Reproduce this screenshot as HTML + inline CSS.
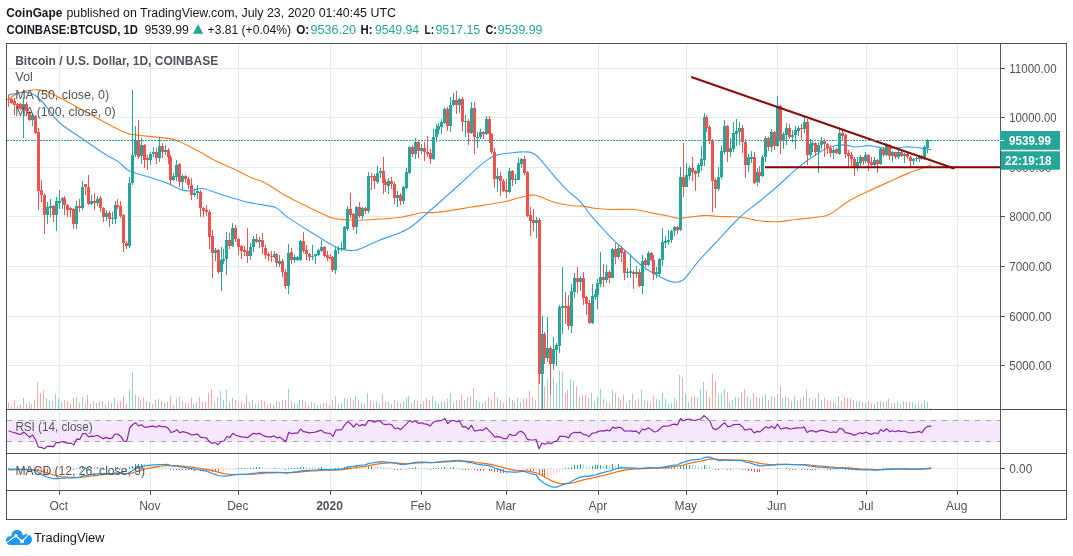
<!DOCTYPE html>
<html><head><meta charset="utf-8"><title>BTCUSD</title>
<style>html,body{margin:0;padding:0;background:#fff;}body{width:1073px;height:556px;overflow:hidden;font-family:"Liberation Sans",sans-serif;}svg{display:block}</style>
</head><body>
<svg style="will-change:transform" width="1073" height="556" viewBox="0 0 1073 556" font-family="'Liberation Sans', sans-serif">
<rect width="1073" height="556" fill="#fff"/>
<rect x="7" y="420" width="993" height="22" fill="#f5e8fc"/>
<g stroke="#e1ecf2" stroke-width="1" shape-rendering="crispEdges">
<line x1="59.5" y1="44" x2="59.5" y2="490"/>
<line x1="150.5" y1="44" x2="150.5" y2="490"/>
<line x1="238.5" y1="44" x2="238.5" y2="490"/>
<line x1="330.5" y1="44" x2="330.5" y2="490"/>
<line x1="421.5" y1="44" x2="421.5" y2="490"/>
<line x1="506.5" y1="44" x2="506.5" y2="490"/>
<line x1="598.5" y1="44" x2="598.5" y2="490"/>
<line x1="686.5" y1="44" x2="686.5" y2="490"/>
<line x1="777.5" y1="44" x2="777.5" y2="490"/>
<line x1="866.5" y1="44" x2="866.5" y2="490"/>
<line x1="957.5" y1="44" x2="957.5" y2="490"/>
<line x1="7" y1="68.5" x2="1000" y2="68.5"/>
<line x1="7" y1="117.5" x2="1000" y2="117.5"/>
<line x1="7" y1="167.5" x2="1000" y2="167.5"/>
<line x1="7" y1="216.5" x2="1000" y2="216.5"/>
<line x1="7" y1="266.5" x2="1000" y2="266.5"/>
<line x1="7" y1="316.5" x2="1000" y2="316.5"/>
<line x1="7" y1="365.5" x2="1000" y2="365.5"/>
<line x1="7" y1="468.5" x2="1000" y2="468.5"/>
</g>
<g stroke="#a3a3a8" stroke-width="1" stroke-dasharray="5,6" shape-rendering="crispEdges"><line x1="7" y1="420.5" x2="1000" y2="420.5"/><line x1="7" y1="441.5" x2="1000" y2="441.5"/></g>
<g shape-rendering="crispEdges">
<rect x="8" y="402.8" width="1" height="6.7" fill="#f7a9a7"/>
<rect x="11" y="405.6" width="1" height="3.9" fill="#f7a9a7"/>
<rect x="14" y="400.3" width="1" height="9.2" fill="#f7a9a7"/>
<rect x="17" y="405.6" width="1" height="3.9" fill="#f7a9a7"/>
<rect x="20" y="404.1" width="1" height="5.4" fill="#f7a9a7"/>
<rect x="23" y="397.5" width="1" height="12.0" fill="#93d3cd"/>
<rect x="26" y="403.5" width="1" height="6.0" fill="#f7a9a7"/>
<rect x="29" y="403.0" width="1" height="6.5" fill="#f7a9a7"/>
<rect x="31" y="403.7" width="1" height="5.8" fill="#93d3cd"/>
<rect x="34" y="400.2" width="1" height="9.3" fill="#f7a9a7"/>
<rect x="37" y="381.5" width="1" height="28.0" fill="#f7a9a7"/>
<rect x="40" y="392.5" width="1" height="17.0" fill="#f7a9a7"/>
<rect x="43" y="389.5" width="1" height="20.0" fill="#f7a9a7"/>
<rect x="46" y="397.5" width="1" height="12.0" fill="#93d3cd"/>
<rect x="49" y="401.4" width="1" height="8.1" fill="#93d3cd"/>
<rect x="52" y="401.4" width="1" height="8.1" fill="#f7a9a7"/>
<rect x="55" y="394.1" width="1" height="15.4" fill="#93d3cd"/>
<rect x="58" y="398.8" width="1" height="10.7" fill="#93d3cd"/>
<rect x="61" y="402.3" width="1" height="7.2" fill="#93d3cd"/>
<rect x="64" y="400.2" width="1" height="9.3" fill="#f7a9a7"/>
<rect x="67" y="401.0" width="1" height="8.5" fill="#f7a9a7"/>
<rect x="70" y="404.3" width="1" height="5.2" fill="#f7a9a7"/>
<rect x="73" y="398.3" width="1" height="11.2" fill="#f7a9a7"/>
<rect x="76" y="397.4" width="1" height="12.1" fill="#93d3cd"/>
<rect x="79" y="403.1" width="1" height="6.4" fill="#f7a9a7"/>
<rect x="82" y="397.1" width="1" height="12.4" fill="#93d3cd"/>
<rect x="85" y="403.2" width="1" height="6.3" fill="#f7a9a7"/>
<rect x="87" y="395.1" width="1" height="14.4" fill="#f7a9a7"/>
<rect x="90" y="404.0" width="1" height="5.5" fill="#93d3cd"/>
<rect x="93" y="400.5" width="1" height="9.0" fill="#f7a9a7"/>
<rect x="96" y="402.9" width="1" height="6.6" fill="#93d3cd"/>
<rect x="99" y="401.0" width="1" height="8.5" fill="#f7a9a7"/>
<rect x="102" y="401.3" width="1" height="8.2" fill="#f7a9a7"/>
<rect x="105" y="404.1" width="1" height="5.4" fill="#93d3cd"/>
<rect x="108" y="402.1" width="1" height="7.4" fill="#f7a9a7"/>
<rect x="111" y="403.4" width="1" height="6.1" fill="#93d3cd"/>
<rect x="114" y="398.2" width="1" height="11.3" fill="#93d3cd"/>
<rect x="117" y="403.3" width="1" height="6.2" fill="#f7a9a7"/>
<rect x="120" y="401.4" width="1" height="8.1" fill="#f7a9a7"/>
<rect x="123" y="395.5" width="1" height="14.0" fill="#f7a9a7"/>
<rect x="126" y="404.1" width="1" height="5.4" fill="#f7a9a7"/>
<rect x="129" y="389.5" width="1" height="20.0" fill="#93d3cd"/>
<rect x="132" y="371.5" width="1" height="38.0" fill="#93d3cd"/>
<rect x="135" y="394.5" width="1" height="15.0" fill="#93d3cd"/>
<rect x="138" y="396.5" width="1" height="13.0" fill="#f7a9a7"/>
<rect x="140" y="399.5" width="1" height="10.0" fill="#93d3cd"/>
<rect x="143" y="397.9" width="1" height="11.6" fill="#f7a9a7"/>
<rect x="146" y="400.6" width="1" height="8.9" fill="#f7a9a7"/>
<rect x="149" y="401.5" width="1" height="8.0" fill="#93d3cd"/>
<rect x="152" y="403.8" width="1" height="5.7" fill="#93d3cd"/>
<rect x="155" y="399.8" width="1" height="9.7" fill="#f7a9a7"/>
<rect x="158" y="398.7" width="1" height="10.8" fill="#93d3cd"/>
<rect x="161" y="401.2" width="1" height="8.3" fill="#f7a9a7"/>
<rect x="164" y="402.7" width="1" height="6.8" fill="#93d3cd"/>
<rect x="167" y="401.9" width="1" height="7.6" fill="#f7a9a7"/>
<rect x="170" y="396.1" width="1" height="13.4" fill="#f7a9a7"/>
<rect x="173" y="404.9" width="1" height="4.6" fill="#93d3cd"/>
<rect x="176" y="398.5" width="1" height="11.0" fill="#93d3cd"/>
<rect x="179" y="397.3" width="1" height="12.2" fill="#f7a9a7"/>
<rect x="182" y="400.5" width="1" height="9.0" fill="#93d3cd"/>
<rect x="185" y="403.1" width="1" height="6.4" fill="#f7a9a7"/>
<rect x="188" y="403.0" width="1" height="6.5" fill="#f7a9a7"/>
<rect x="191" y="398.4" width="1" height="11.1" fill="#f7a9a7"/>
<rect x="193" y="403.5" width="1" height="6.0" fill="#93d3cd"/>
<rect x="196" y="401.7" width="1" height="7.8" fill="#93d3cd"/>
<rect x="199" y="397.4" width="1" height="12.1" fill="#f7a9a7"/>
<rect x="202" y="402.2" width="1" height="7.3" fill="#f7a9a7"/>
<rect x="205" y="401.7" width="1" height="7.8" fill="#f7a9a7"/>
<rect x="208" y="392.8" width="1" height="16.7" fill="#f7a9a7"/>
<rect x="211" y="389.3" width="1" height="20.2" fill="#f7a9a7"/>
<rect x="214" y="403.0" width="1" height="6.5" fill="#93d3cd"/>
<rect x="217" y="397.1" width="1" height="12.4" fill="#f7a9a7"/>
<rect x="220" y="390.7" width="1" height="18.8" fill="#93d3cd"/>
<rect x="223" y="400.0" width="1" height="9.5" fill="#93d3cd"/>
<rect x="226" y="390.4" width="1" height="19.1" fill="#93d3cd"/>
<rect x="229" y="401.8" width="1" height="7.7" fill="#f7a9a7"/>
<rect x="232" y="398.3" width="1" height="11.2" fill="#93d3cd"/>
<rect x="235" y="400.1" width="1" height="9.4" fill="#f7a9a7"/>
<rect x="238" y="401.8" width="1" height="7.7" fill="#f7a9a7"/>
<rect x="241" y="401.7" width="1" height="7.8" fill="#f7a9a7"/>
<rect x="244" y="404.2" width="1" height="5.3" fill="#f7a9a7"/>
<rect x="246" y="395.2" width="1" height="14.3" fill="#f7a9a7"/>
<rect x="249" y="401.8" width="1" height="7.7" fill="#93d3cd"/>
<rect x="252" y="400.3" width="1" height="9.2" fill="#93d3cd"/>
<rect x="255" y="404.4" width="1" height="5.1" fill="#f7a9a7"/>
<rect x="258" y="403.4" width="1" height="6.1" fill="#93d3cd"/>
<rect x="261" y="399.6" width="1" height="9.9" fill="#f7a9a7"/>
<rect x="264" y="401.1" width="1" height="8.4" fill="#f7a9a7"/>
<rect x="267" y="404.8" width="1" height="4.7" fill="#f7a9a7"/>
<rect x="270" y="402.9" width="1" height="6.6" fill="#f7a9a7"/>
<rect x="273" y="404.0" width="1" height="5.5" fill="#93d3cd"/>
<rect x="276" y="400.9" width="1" height="8.6" fill="#f7a9a7"/>
<rect x="279" y="401.9" width="1" height="7.6" fill="#93d3cd"/>
<rect x="282" y="399.5" width="1" height="10.0" fill="#f7a9a7"/>
<rect x="285" y="400.3" width="1" height="9.2" fill="#f7a9a7"/>
<rect x="288" y="388.8" width="1" height="20.7" fill="#93d3cd"/>
<rect x="291" y="401.2" width="1" height="8.3" fill="#f7a9a7"/>
<rect x="294" y="403.1" width="1" height="6.4" fill="#93d3cd"/>
<rect x="297" y="403.5" width="1" height="6.0" fill="#93d3cd"/>
<rect x="299" y="400.1" width="1" height="9.4" fill="#93d3cd"/>
<rect x="302" y="400.0" width="1" height="9.5" fill="#f7a9a7"/>
<rect x="305" y="402.1" width="1" height="7.4" fill="#f7a9a7"/>
<rect x="308" y="404.5" width="1" height="5.0" fill="#f7a9a7"/>
<rect x="311" y="401.6" width="1" height="7.9" fill="#93d3cd"/>
<rect x="314" y="402.9" width="1" height="6.6" fill="#93d3cd"/>
<rect x="317" y="404.9" width="1" height="4.6" fill="#93d3cd"/>
<rect x="320" y="403.5" width="1" height="6.0" fill="#93d3cd"/>
<rect x="323" y="403.0" width="1" height="6.5" fill="#f7a9a7"/>
<rect x="326" y="403.4" width="1" height="6.1" fill="#f7a9a7"/>
<rect x="329" y="404.8" width="1" height="4.7" fill="#f7a9a7"/>
<rect x="332" y="400.1" width="1" height="9.4" fill="#f7a9a7"/>
<rect x="335" y="396.4" width="1" height="13.1" fill="#93d3cd"/>
<rect x="338" y="404.0" width="1" height="5.5" fill="#93d3cd"/>
<rect x="341" y="403.1" width="1" height="6.4" fill="#93d3cd"/>
<rect x="344" y="397.8" width="1" height="11.7" fill="#93d3cd"/>
<rect x="347" y="398.8" width="1" height="10.7" fill="#93d3cd"/>
<rect x="350" y="396.9" width="1" height="12.6" fill="#f7a9a7"/>
<rect x="353" y="399.9" width="1" height="9.6" fill="#f7a9a7"/>
<rect x="355" y="395.9" width="1" height="13.6" fill="#93d3cd"/>
<rect x="358" y="400.2" width="1" height="9.3" fill="#f7a9a7"/>
<rect x="361" y="402.7" width="1" height="6.8" fill="#93d3cd"/>
<rect x="364" y="404.3" width="1" height="5.2" fill="#f7a9a7"/>
<rect x="367" y="393.1" width="1" height="16.4" fill="#93d3cd"/>
<rect x="370" y="400.3" width="1" height="9.2" fill="#f7a9a7"/>
<rect x="373" y="402.6" width="1" height="6.9" fill="#f7a9a7"/>
<rect x="376" y="401.3" width="1" height="8.2" fill="#93d3cd"/>
<rect x="379" y="403.8" width="1" height="5.7" fill="#93d3cd"/>
<rect x="382" y="394.3" width="1" height="15.2" fill="#f7a9a7"/>
<rect x="385" y="402.4" width="1" height="7.1" fill="#f7a9a7"/>
<rect x="388" y="402.2" width="1" height="7.3" fill="#93d3cd"/>
<rect x="391" y="403.7" width="1" height="5.8" fill="#f7a9a7"/>
<rect x="394" y="399.8" width="1" height="9.7" fill="#f7a9a7"/>
<rect x="397" y="402.1" width="1" height="7.4" fill="#93d3cd"/>
<rect x="400" y="402.8" width="1" height="6.7" fill="#f7a9a7"/>
<rect x="403" y="401.4" width="1" height="8.1" fill="#93d3cd"/>
<rect x="406" y="398.1" width="1" height="11.4" fill="#93d3cd"/>
<rect x="408" y="396.4" width="1" height="13.1" fill="#93d3cd"/>
<rect x="411" y="403.4" width="1" height="6.1" fill="#f7a9a7"/>
<rect x="414" y="399.9" width="1" height="9.6" fill="#93d3cd"/>
<rect x="417" y="400.9" width="1" height="8.6" fill="#f7a9a7"/>
<rect x="420" y="403.7" width="1" height="5.8" fill="#93d3cd"/>
<rect x="423" y="401.0" width="1" height="8.5" fill="#f7a9a7"/>
<rect x="426" y="398.4" width="1" height="11.1" fill="#f7a9a7"/>
<rect x="429" y="400.3" width="1" height="9.2" fill="#f7a9a7"/>
<rect x="432" y="395.6" width="1" height="13.9" fill="#93d3cd"/>
<rect x="435" y="400.5" width="1" height="9.0" fill="#93d3cd"/>
<rect x="438" y="403.8" width="1" height="5.7" fill="#93d3cd"/>
<rect x="441" y="402.4" width="1" height="7.1" fill="#93d3cd"/>
<rect x="444" y="401.2" width="1" height="8.3" fill="#93d3cd"/>
<rect x="447" y="398.8" width="1" height="10.7" fill="#f7a9a7"/>
<rect x="450" y="393.2" width="1" height="16.3" fill="#93d3cd"/>
<rect x="453" y="402.7" width="1" height="6.8" fill="#93d3cd"/>
<rect x="456" y="399.7" width="1" height="9.8" fill="#f7a9a7"/>
<rect x="459" y="400.1" width="1" height="9.4" fill="#93d3cd"/>
<rect x="461" y="394.5" width="1" height="15.0" fill="#f7a9a7"/>
<rect x="464" y="399.9" width="1" height="9.6" fill="#93d3cd"/>
<rect x="467" y="397.3" width="1" height="12.2" fill="#f7a9a7"/>
<rect x="470" y="396.4" width="1" height="13.1" fill="#93d3cd"/>
<rect x="473" y="388.0" width="1" height="21.5" fill="#f7a9a7"/>
<rect x="476" y="399.8" width="1" height="9.7" fill="#93d3cd"/>
<rect x="479" y="402.3" width="1" height="7.2" fill="#93d3cd"/>
<rect x="482" y="403.4" width="1" height="6.1" fill="#f7a9a7"/>
<rect x="485" y="400.5" width="1" height="9.0" fill="#93d3cd"/>
<rect x="488" y="397.2" width="1" height="12.3" fill="#f7a9a7"/>
<rect x="491" y="399.8" width="1" height="9.7" fill="#f7a9a7"/>
<rect x="494" y="391.6" width="1" height="17.9" fill="#f7a9a7"/>
<rect x="497" y="398.3" width="1" height="11.2" fill="#93d3cd"/>
<rect x="500" y="399.5" width="1" height="10.0" fill="#f7a9a7"/>
<rect x="503" y="402.5" width="1" height="7.0" fill="#f7a9a7"/>
<rect x="506" y="400.7" width="1" height="8.8" fill="#f7a9a7"/>
<rect x="509" y="396.9" width="1" height="12.6" fill="#93d3cd"/>
<rect x="512" y="399.7" width="1" height="9.8" fill="#f7a9a7"/>
<rect x="514" y="402.3" width="1" height="7.2" fill="#93d3cd"/>
<rect x="517" y="397.9" width="1" height="11.6" fill="#93d3cd"/>
<rect x="520" y="402.3" width="1" height="7.2" fill="#93d3cd"/>
<rect x="523" y="399.3" width="1" height="10.2" fill="#f7a9a7"/>
<rect x="526" y="397.5" width="1" height="12.0" fill="#f7a9a7"/>
<rect x="529" y="390.5" width="1" height="19.0" fill="#f7a9a7"/>
<rect x="532" y="396.5" width="1" height="13.0" fill="#f7a9a7"/>
<rect x="535" y="399.5" width="1" height="10.0" fill="#93d3cd"/>
<rect x="538" y="369.5" width="1" height="40.0" fill="#f7a9a7"/>
<rect x="541" y="363.5" width="1" height="46.0" fill="#93d3cd"/>
<rect x="544" y="385.5" width="1" height="24.0" fill="#f7a9a7"/>
<rect x="547" y="378.5" width="1" height="31.0" fill="#93d3cd"/>
<rect x="550" y="369.5" width="1" height="40.0" fill="#f7a9a7"/>
<rect x="553" y="377.5" width="1" height="32.0" fill="#93d3cd"/>
<rect x="556" y="382.5" width="1" height="27.0" fill="#93d3cd"/>
<rect x="559" y="370.5" width="1" height="39.0" fill="#93d3cd"/>
<rect x="562" y="371.5" width="1" height="38.0" fill="#93d3cd"/>
<rect x="565" y="392.5" width="1" height="17.0" fill="#f7a9a7"/>
<rect x="567" y="389.5" width="1" height="20.0" fill="#f7a9a7"/>
<rect x="570" y="379.5" width="1" height="30.0" fill="#93d3cd"/>
<rect x="573" y="380.5" width="1" height="29.0" fill="#93d3cd"/>
<rect x="576" y="386.5" width="1" height="23.0" fill="#f7a9a7"/>
<rect x="579" y="396.5" width="1" height="13.0" fill="#93d3cd"/>
<rect x="582" y="394.5" width="1" height="15.0" fill="#f7a9a7"/>
<rect x="585" y="394.5" width="1" height="15.0" fill="#f7a9a7"/>
<rect x="588" y="397.5" width="1" height="12.0" fill="#f7a9a7"/>
<rect x="591" y="392.5" width="1" height="17.0" fill="#93d3cd"/>
<rect x="594" y="400.5" width="1" height="9.0" fill="#93d3cd"/>
<rect x="597" y="396.5" width="1" height="13.0" fill="#93d3cd"/>
<rect x="600" y="388.5" width="1" height="21.0" fill="#93d3cd"/>
<rect x="603" y="398.5" width="1" height="11.0" fill="#f7a9a7"/>
<rect x="606" y="401.5" width="1" height="8.0" fill="#93d3cd"/>
<rect x="609" y="402.5" width="1" height="7.0" fill="#f7a9a7"/>
<rect x="612" y="389.5" width="1" height="20.0" fill="#93d3cd"/>
<rect x="615" y="392.5" width="1" height="17.0" fill="#f7a9a7"/>
<rect x="618" y="397.5" width="1" height="12.0" fill="#93d3cd"/>
<rect x="620" y="399.5" width="1" height="10.0" fill="#f7a9a7"/>
<rect x="623" y="394.5" width="1" height="15.0" fill="#f7a9a7"/>
<rect x="626" y="402.5" width="1" height="7.0" fill="#93d3cd"/>
<rect x="629" y="399.5" width="1" height="10.0" fill="#93d3cd"/>
<rect x="632" y="393.5" width="1" height="16.0" fill="#f7a9a7"/>
<rect x="635" y="399.5" width="1" height="10.0" fill="#93d3cd"/>
<rect x="638" y="398.5" width="1" height="11.0" fill="#f7a9a7"/>
<rect x="641" y="389.5" width="1" height="20.0" fill="#93d3cd"/>
<rect x="644" y="399.5" width="1" height="10.0" fill="#f7a9a7"/>
<rect x="647" y="400.5" width="1" height="9.0" fill="#93d3cd"/>
<rect x="650" y="402.5" width="1" height="7.0" fill="#f7a9a7"/>
<rect x="653" y="395.5" width="1" height="14.0" fill="#f7a9a7"/>
<rect x="656" y="398.5" width="1" height="11.0" fill="#93d3cd"/>
<rect x="659" y="399.5" width="1" height="10.0" fill="#93d3cd"/>
<rect x="662" y="392.5" width="1" height="17.0" fill="#93d3cd"/>
<rect x="665" y="398.5" width="1" height="11.0" fill="#93d3cd"/>
<rect x="668" y="403.5" width="1" height="6.0" fill="#93d3cd"/>
<rect x="671" y="402.5" width="1" height="7.0" fill="#93d3cd"/>
<rect x="674" y="397.5" width="1" height="12.0" fill="#93d3cd"/>
<rect x="676" y="400.5" width="1" height="9.0" fill="#f7a9a7"/>
<rect x="679" y="374.5" width="1" height="35.0" fill="#93d3cd"/>
<rect x="682" y="377.5" width="1" height="32.0" fill="#f7a9a7"/>
<rect x="685" y="393.5" width="1" height="16.0" fill="#93d3cd"/>
<rect x="688" y="401.5" width="1" height="8.0" fill="#93d3cd"/>
<rect x="691" y="396.5" width="1" height="13.0" fill="#f7a9a7"/>
<rect x="694" y="395.5" width="1" height="14.0" fill="#f7a9a7"/>
<rect x="697" y="397.5" width="1" height="12.0" fill="#93d3cd"/>
<rect x="700" y="389.5" width="1" height="20.0" fill="#93d3cd"/>
<rect x="703" y="381.5" width="1" height="28.0" fill="#93d3cd"/>
<rect x="706" y="390.5" width="1" height="19.0" fill="#f7a9a7"/>
<rect x="709" y="396.5" width="1" height="13.0" fill="#f7a9a7"/>
<rect x="712" y="373.5" width="1" height="36.0" fill="#f7a9a7"/>
<rect x="715" y="380.5" width="1" height="29.0" fill="#f7a9a7"/>
<rect x="718" y="394.5" width="1" height="15.0" fill="#93d3cd"/>
<rect x="721" y="393.5" width="1" height="16.0" fill="#93d3cd"/>
<rect x="724" y="388.5" width="1" height="21.0" fill="#93d3cd"/>
<rect x="727" y="391.5" width="1" height="18.0" fill="#f7a9a7"/>
<rect x="729" y="401.5" width="1" height="8.0" fill="#93d3cd"/>
<rect x="732" y="399.5" width="1" height="10.0" fill="#93d3cd"/>
<rect x="735" y="396.5" width="1" height="13.0" fill="#93d3cd"/>
<rect x="738" y="397.5" width="1" height="12.0" fill="#93d3cd"/>
<rect x="741" y="392.2" width="1" height="17.3" fill="#f7a9a7"/>
<rect x="744" y="389.4" width="1" height="20.1" fill="#f7a9a7"/>
<rect x="747" y="396.8" width="1" height="12.7" fill="#93d3cd"/>
<rect x="750" y="398.6" width="1" height="10.9" fill="#93d3cd"/>
<rect x="753" y="393.1" width="1" height="16.4" fill="#f7a9a7"/>
<rect x="756" y="397.0" width="1" height="12.5" fill="#93d3cd"/>
<rect x="759" y="398.0" width="1" height="11.5" fill="#f7a9a7"/>
<rect x="762" y="396.6" width="1" height="12.9" fill="#93d3cd"/>
<rect x="765" y="394.0" width="1" height="15.5" fill="#93d3cd"/>
<rect x="768" y="400.1" width="1" height="9.4" fill="#f7a9a7"/>
<rect x="771" y="396.2" width="1" height="13.3" fill="#93d3cd"/>
<rect x="774" y="397.0" width="1" height="12.5" fill="#f7a9a7"/>
<rect x="777" y="393.5" width="1" height="16.0" fill="#93d3cd"/>
<rect x="780" y="385.5" width="1" height="24.0" fill="#f7a9a7"/>
<rect x="782" y="398.0" width="1" height="11.5" fill="#93d3cd"/>
<rect x="785" y="396.0" width="1" height="13.5" fill="#93d3cd"/>
<rect x="788" y="398.1" width="1" height="11.4" fill="#f7a9a7"/>
<rect x="791" y="401.1" width="1" height="8.4" fill="#93d3cd"/>
<rect x="794" y="395.7" width="1" height="13.8" fill="#93d3cd"/>
<rect x="797" y="401.4" width="1" height="8.1" fill="#93d3cd"/>
<rect x="800" y="399.0" width="1" height="10.5" fill="#f7a9a7"/>
<rect x="803" y="397.3" width="1" height="12.2" fill="#93d3cd"/>
<rect x="806" y="389.5" width="1" height="20.0" fill="#f7a9a7"/>
<rect x="809" y="397.8" width="1" height="11.7" fill="#93d3cd"/>
<rect x="812" y="399.9" width="1" height="9.6" fill="#93d3cd"/>
<rect x="815" y="398.4" width="1" height="11.1" fill="#f7a9a7"/>
<rect x="818" y="393.4" width="1" height="16.1" fill="#93d3cd"/>
<rect x="821" y="399.6" width="1" height="9.9" fill="#93d3cd"/>
<rect x="824" y="398.0" width="1" height="11.5" fill="#f7a9a7"/>
<rect x="827" y="400.0" width="1" height="9.5" fill="#f7a9a7"/>
<rect x="830" y="401.0" width="1" height="8.5" fill="#f7a9a7"/>
<rect x="833" y="401.5" width="1" height="8.0" fill="#93d3cd"/>
<rect x="835" y="403.4" width="1" height="6.1" fill="#f7a9a7"/>
<rect x="838" y="396.1" width="1" height="13.4" fill="#93d3cd"/>
<rect x="841" y="400.9" width="1" height="8.6" fill="#f7a9a7"/>
<rect x="844" y="396.6" width="1" height="12.9" fill="#f7a9a7"/>
<rect x="847" y="398.1" width="1" height="11.4" fill="#f7a9a7"/>
<rect x="850" y="399.4" width="1" height="10.1" fill="#f7a9a7"/>
<rect x="853" y="399.5" width="1" height="10.0" fill="#f7a9a7"/>
<rect x="856" y="400.7" width="1" height="8.8" fill="#93d3cd"/>
<rect x="859" y="400.6" width="1" height="8.9" fill="#93d3cd"/>
<rect x="862" y="401.9" width="1" height="7.6" fill="#f7a9a7"/>
<rect x="865" y="402.9" width="1" height="6.6" fill="#93d3cd"/>
<rect x="868" y="400.6" width="1" height="8.9" fill="#f7a9a7"/>
<rect x="871" y="402.7" width="1" height="6.8" fill="#f7a9a7"/>
<rect x="874" y="403.7" width="1" height="5.8" fill="#93d3cd"/>
<rect x="877" y="401.5" width="1" height="8.0" fill="#f7a9a7"/>
<rect x="880" y="400.6" width="1" height="8.9" fill="#93d3cd"/>
<rect x="883" y="401.7" width="1" height="7.8" fill="#f7a9a7"/>
<rect x="886" y="400.5" width="1" height="9.0" fill="#93d3cd"/>
<rect x="888" y="399.0" width="1" height="10.5" fill="#f7a9a7"/>
<rect x="891" y="402.7" width="1" height="6.8" fill="#93d3cd"/>
<rect x="894" y="402.5" width="1" height="7.0" fill="#f7a9a7"/>
<rect x="897" y="401.7" width="1" height="7.8" fill="#93d3cd"/>
<rect x="900" y="404.2" width="1" height="5.3" fill="#f7a9a7"/>
<rect x="903" y="401.1" width="1" height="8.4" fill="#93d3cd"/>
<rect x="906" y="402.4" width="1" height="7.1" fill="#f7a9a7"/>
<rect x="909" y="402.4" width="1" height="7.1" fill="#f7a9a7"/>
<rect x="912" y="402.4" width="1" height="7.1" fill="#93d3cd"/>
<rect x="915" y="404.0" width="1" height="5.5" fill="#93d3cd"/>
<rect x="918" y="403.3" width="1" height="6.2" fill="#93d3cd"/>
<rect x="921" y="402.9" width="1" height="6.6" fill="#f7a9a7"/>
<rect x="924" y="399.6" width="1" height="9.9" fill="#93d3cd"/>
<rect x="927" y="401.5" width="1" height="8.0" fill="#93d3cd"/>
<rect x="930" y="407.5" width="1" height="2.0" fill="#93d3cd"/>
</g>
<path d="M8.6,98.7 C10.3,97.8 14.2,94.6 18.7,93.1 C23.2,91.6 30.8,90.0 35.5,89.7 C40.2,89.5 42.4,90.1 46.8,91.6 C51.2,93.1 55.8,95.6 61.7,98.7 C67.6,101.8 75.8,106.4 82.3,110.0 C88.8,113.6 95.4,117.2 101.0,120.2 C106.6,123.2 111.3,126.0 116.0,128.3 C120.7,130.6 124.1,132.6 129.1,133.9 C134.1,135.2 139.4,135.3 146.0,136.1 C152.6,136.8 162.8,137.5 168.4,138.4 C174.0,139.3 174.3,139.4 179.6,141.7 C184.9,144.0 194.3,148.9 200.0,152.0 C205.7,155.1 208.0,157.0 214.0,160.0 C220.0,163.0 229.8,167.2 236.0,170.1 C242.2,173.0 246.4,175.6 251.2,177.7 C256.0,179.8 258.8,179.7 264.7,182.8 C270.6,185.9 279.4,192.2 286.7,196.3 C294.0,200.4 301.4,203.8 308.7,207.3 C316.0,210.8 324.6,215.4 330.6,217.5 C336.7,219.6 340.3,219.2 345.0,219.6 C349.7,220.0 352.1,220.3 358.9,220.2 C365.7,220.0 378.4,219.2 385.7,218.7 C393.0,218.2 396.7,218.0 402.6,217.0 C408.5,216.0 415.6,213.5 421.2,212.7 C426.8,211.9 428.2,213.3 436.4,212.4 C444.6,211.5 458.9,209.1 470.2,207.3 C481.5,205.5 496.2,203.3 504.0,201.8 C511.8,200.3 513.1,199.2 516.9,198.2 C520.7,197.2 523.9,196.5 527.0,196.0 C530.1,195.5 530.7,194.2 535.5,195.3 C540.3,196.4 549.6,200.9 555.8,202.7 C562.0,204.4 568.2,205.2 572.7,205.8 C577.2,206.4 579.1,205.7 582.8,206.1 C586.4,206.5 590.1,207.7 594.6,208.3 C599.1,208.9 603.4,209.3 609.9,209.5 C616.4,209.7 626.5,208.9 633.5,209.5 C640.5,210.1 646.2,211.8 652.1,212.9 C658.0,214.0 664.7,215.4 669.0,216.3 C673.3,217.2 674.7,218.0 677.9,218.2 C681.1,218.4 683.1,217.8 688.0,217.3 C692.9,216.8 702.0,215.5 707.0,215.4 C712.0,215.3 713.4,216.3 718.2,216.5 C723.0,216.7 730.8,216.4 736.0,216.8 C741.2,217.2 745.7,218.0 749.5,218.7 C753.3,219.4 754.1,220.3 758.7,220.8 C763.4,221.3 771.2,221.9 777.4,221.7 C783.6,221.5 789.2,220.3 796.1,219.5 C803.0,218.7 813.0,217.9 818.6,217.0 C824.2,216.1 824.8,216.9 829.8,214.3 C834.8,211.7 842.3,204.9 848.5,201.2 C854.7,197.4 860.3,195.1 867.2,191.8 C874.1,188.5 882.8,184.6 889.7,181.5 C896.6,178.4 902.2,175.6 908.4,173.1 C914.6,170.6 923.3,167.8 927.1,166.5 C930.9,165.2 930.4,165.2 931.0,165.0" fill="none" stroke="#ff7d14" stroke-width="1.15" stroke-linejoin="round" stroke-linecap="round"/>
<path d="M8.4,95.0 C11.1,94.5 19.9,92.2 24.3,92.2 C28.7,92.2 31.5,93.3 34.6,95.0 C37.7,96.7 38.8,97.8 43.0,102.5 C47.2,107.2 53.0,116.8 59.9,123.0 C66.8,129.2 76.7,134.8 84.2,139.9 C91.7,145.1 99.2,150.3 104.8,153.9 C110.4,157.5 113.9,158.6 117.9,161.4 C122.0,164.2 123.8,168.0 129.1,170.7 C134.4,173.3 143.5,175.3 149.7,177.3 C155.9,179.3 160.8,180.7 166.5,182.9 C172.2,185.1 179.2,189.2 183.6,190.4 C188.0,191.6 189.6,190.5 193.0,190.2 C196.4,189.9 198.7,187.8 203.9,188.7 C209.1,189.6 216.6,193.2 224.2,195.5 C231.8,197.8 241.1,200.6 249.5,202.6 C257.9,204.6 268.7,205.0 274.9,207.3 C281.1,209.6 280.8,212.5 286.7,216.6 C292.6,220.7 302.4,226.9 310.3,231.8 C318.2,236.7 328.4,243.2 334.0,246.2 C339.6,249.2 340.4,248.9 343.7,249.6 C347.0,250.3 350.7,250.8 353.8,250.5 C356.9,250.2 357.8,249.8 362.2,248.0 C366.6,246.2 372.4,243.2 380.0,240.0 C387.6,236.8 399.4,233.8 407.7,229.0 C416.0,224.2 420.9,218.5 429.6,211.0 C438.3,203.5 451.6,191.6 460.0,184.0 C468.4,176.4 475.2,169.8 480.3,165.4 C485.4,161.0 487.7,159.6 490.5,157.8 C493.3,156.1 493.9,155.7 497.2,154.9 C500.4,154.1 505.6,153.5 510.0,153.0 C514.4,152.5 519.5,151.7 523.7,152.0 C528.0,152.3 530.1,150.4 535.5,154.7 C540.9,159.0 550.2,171.6 555.8,177.9 C561.4,184.2 565.4,188.5 569.3,192.3 C573.2,196.1 575.7,196.8 579.4,200.7 C583.1,204.6 587.7,211.6 591.3,215.9 C594.9,220.2 597.2,222.6 601.1,226.8 C605.0,231.0 609.8,236.5 614.6,241.2 C619.4,245.8 625.4,250.6 629.9,254.7 C634.4,258.8 637.5,262.4 641.7,265.7 C645.9,268.9 650.7,271.7 655.2,274.2 C659.7,276.7 665.3,279.5 668.7,280.9 C672.1,282.2 673.1,282.4 675.5,282.3 C677.9,282.2 680.3,282.2 683.1,280.0 C685.9,277.8 689.6,272.4 692.4,269.0 C695.2,265.6 696.2,263.6 700.0,259.3 C703.8,255.1 709.2,249.7 715.0,243.5 C720.8,237.3 730.0,227.2 735.0,222.0 C740.0,216.8 741.0,215.9 745.0,212.6 C749.0,209.3 753.3,206.4 758.7,202.0 C764.1,197.6 771.2,191.6 777.4,186.2 C783.6,180.8 791.2,173.6 796.1,169.4 C801.0,165.2 803.3,163.4 806.8,160.8 C810.3,158.2 813.8,156.1 816.9,154.1 C820.0,152.1 822.6,150.3 825.4,149.0 C828.2,147.7 831.0,146.7 833.8,146.0 C836.6,145.3 839.5,144.8 842.3,144.8 C845.1,144.8 848.2,145.6 850.7,146.0 C853.2,146.4 854.7,147.1 857.5,147.0 C860.3,146.9 864.8,145.7 867.6,145.6 C870.4,145.5 871.6,146.1 874.4,146.5 C877.2,146.9 881.1,147.9 884.5,148.2 C887.9,148.5 891.2,148.4 894.6,148.2 C898.0,148.0 901.4,147.2 904.8,147.0 C908.2,146.8 911.5,147.0 914.9,147.3 C918.3,147.6 922.4,148.6 925.1,149.0 C927.8,149.4 930.0,149.4 931.0,149.5" fill="none" stroke="#3d9ff5" stroke-width="1.15" stroke-linejoin="round" stroke-linecap="round"/>
<g shape-rendering="crispEdges">
<rect x="8" y="95" width="1" height="12" fill="#ef5350"/>
<rect x="7" y="99" width="3" height="1" fill="#ef5350"/>
<rect x="11" y="98" width="1" height="6" fill="#ef5350"/>
<rect x="10" y="99" width="3" height="4" fill="#ef5350"/>
<rect x="14" y="98" width="1" height="17" fill="#ef5350"/>
<rect x="13" y="101" width="3" height="4" fill="#ef5350"/>
<rect x="17" y="103" width="1" height="6" fill="#ef5350"/>
<rect x="16" y="104" width="3" height="4" fill="#ef5350"/>
<rect x="20" y="103" width="1" height="7" fill="#ef5350"/>
<rect x="19" y="104" width="3" height="5" fill="#ef5350"/>
<rect x="23" y="98" width="1" height="40" fill="#26a69a"/>
<rect x="22" y="104" width="3" height="5" fill="#26a69a"/>
<rect x="26" y="102" width="1" height="12" fill="#ef5350"/>
<rect x="25" y="104" width="3" height="7" fill="#ef5350"/>
<rect x="29" y="111" width="1" height="10" fill="#ef5350"/>
<rect x="28" y="112" width="3" height="8" fill="#ef5350"/>
<rect x="32" y="114" width="1" height="12" fill="#26a69a"/>
<rect x="31" y="115" width="3" height="5" fill="#26a69a"/>
<rect x="35" y="115" width="1" height="19" fill="#ef5350"/>
<rect x="34" y="116" width="3" height="17" fill="#ef5350"/>
<rect x="38" y="128" width="1" height="82" fill="#ef5350"/>
<rect x="37" y="132" width="3" height="59" fill="#ef5350"/>
<rect x="41" y="180" width="1" height="22" fill="#ef5350"/>
<rect x="40" y="190" width="3" height="5" fill="#ef5350"/>
<rect x="44" y="193" width="1" height="41" fill="#ef5350"/>
<rect x="43" y="195" width="3" height="20" fill="#ef5350"/>
<rect x="47" y="202" width="1" height="22" fill="#26a69a"/>
<rect x="46" y="207" width="3" height="8" fill="#26a69a"/>
<rect x="50" y="199" width="1" height="18" fill="#26a69a"/>
<rect x="49" y="206" width="3" height="2" fill="#26a69a"/>
<rect x="53" y="205" width="1" height="17" fill="#ef5350"/>
<rect x="52" y="206" width="3" height="9" fill="#ef5350"/>
<rect x="56" y="197" width="1" height="34" fill="#26a69a"/>
<rect x="55" y="201" width="3" height="14" fill="#26a69a"/>
<rect x="59" y="190" width="1" height="19" fill="#26a69a"/>
<rect x="58" y="201" width="3" height="2" fill="#26a69a"/>
<rect x="62" y="197" width="1" height="12" fill="#26a69a"/>
<rect x="61" y="198" width="3" height="3" fill="#26a69a"/>
<rect x="64" y="196" width="1" height="19" fill="#ef5350"/>
<rect x="63" y="198" width="3" height="7" fill="#ef5350"/>
<rect x="67" y="204" width="1" height="13" fill="#ef5350"/>
<rect x="66" y="205" width="3" height="5" fill="#ef5350"/>
<rect x="70" y="207" width="1" height="10" fill="#ef5350"/>
<rect x="69" y="208" width="3" height="2" fill="#ef5350"/>
<rect x="73" y="208" width="1" height="21" fill="#ef5350"/>
<rect x="72" y="209" width="3" height="15" fill="#ef5350"/>
<rect x="76" y="201" width="1" height="28" fill="#26a69a"/>
<rect x="75" y="206" width="3" height="18" fill="#26a69a"/>
<rect x="79" y="199" width="1" height="13" fill="#ef5350"/>
<rect x="78" y="206" width="3" height="2" fill="#ef5350"/>
<rect x="82" y="181" width="1" height="29" fill="#26a69a"/>
<rect x="81" y="187" width="3" height="21" fill="#26a69a"/>
<rect x="85" y="184" width="1" height="11" fill="#ef5350"/>
<rect x="84" y="184" width="3" height="3" fill="#ef5350"/>
<rect x="88" y="175" width="1" height="30" fill="#ef5350"/>
<rect x="87" y="187" width="3" height="17" fill="#ef5350"/>
<rect x="91" y="195" width="1" height="10" fill="#26a69a"/>
<rect x="90" y="201" width="3" height="3" fill="#26a69a"/>
<rect x="94" y="193" width="1" height="17" fill="#ef5350"/>
<rect x="93" y="201" width="3" height="2" fill="#ef5350"/>
<rect x="97" y="196" width="1" height="10" fill="#26a69a"/>
<rect x="96" y="199" width="3" height="4" fill="#26a69a"/>
<rect x="100" y="196" width="1" height="16" fill="#ef5350"/>
<rect x="99" y="198" width="3" height="10" fill="#ef5350"/>
<rect x="103" y="207" width="1" height="15" fill="#ef5350"/>
<rect x="102" y="208" width="3" height="9" fill="#ef5350"/>
<rect x="106" y="210" width="1" height="11" fill="#26a69a"/>
<rect x="105" y="213" width="3" height="4" fill="#26a69a"/>
<rect x="109" y="211" width="1" height="16" fill="#ef5350"/>
<rect x="108" y="213" width="3" height="6" fill="#ef5350"/>
<rect x="112" y="212" width="1" height="12" fill="#26a69a"/>
<rect x="111" y="218" width="3" height="1" fill="#26a69a"/>
<rect x="115" y="201" width="1" height="23" fill="#26a69a"/>
<rect x="114" y="205" width="3" height="14" fill="#26a69a"/>
<rect x="117" y="199" width="1" height="10" fill="#ef5350"/>
<rect x="116" y="205" width="3" height="2" fill="#ef5350"/>
<rect x="120" y="201" width="1" height="17" fill="#ef5350"/>
<rect x="119" y="206" width="3" height="10" fill="#ef5350"/>
<rect x="123" y="214" width="1" height="38" fill="#ef5350"/>
<rect x="122" y="215" width="3" height="28" fill="#ef5350"/>
<rect x="126" y="241" width="1" height="8" fill="#ef5350"/>
<rect x="125" y="243" width="3" height="3" fill="#ef5350"/>
<rect x="129" y="177" width="1" height="71" fill="#26a69a"/>
<rect x="128" y="183" width="3" height="63" fill="#26a69a"/>
<rect x="132" y="90" width="1" height="95" fill="#26a69a"/>
<rect x="131" y="155" width="3" height="28" fill="#26a69a"/>
<rect x="135" y="126" width="1" height="31" fill="#26a69a"/>
<rect x="134" y="140" width="3" height="15" fill="#26a69a"/>
<rect x="138" y="120" width="1" height="39" fill="#ef5350"/>
<rect x="137" y="140" width="3" height="17" fill="#ef5350"/>
<rect x="141" y="138" width="1" height="26" fill="#26a69a"/>
<rect x="140" y="145" width="3" height="11" fill="#26a69a"/>
<rect x="144" y="144" width="1" height="24" fill="#ef5350"/>
<rect x="143" y="145" width="3" height="15" fill="#ef5350"/>
<rect x="147" y="155" width="1" height="15" fill="#ef5350"/>
<rect x="146" y="158" width="3" height="2" fill="#ef5350"/>
<rect x="150" y="152" width="1" height="13" fill="#26a69a"/>
<rect x="149" y="154" width="3" height="6" fill="#26a69a"/>
<rect x="153" y="147" width="1" height="10" fill="#26a69a"/>
<rect x="152" y="152" width="3" height="2" fill="#26a69a"/>
<rect x="156" y="148" width="1" height="16" fill="#ef5350"/>
<rect x="155" y="152" width="3" height="6" fill="#ef5350"/>
<rect x="159" y="137" width="1" height="25" fill="#26a69a"/>
<rect x="158" y="146" width="3" height="12" fill="#26a69a"/>
<rect x="162" y="143" width="1" height="15" fill="#ef5350"/>
<rect x="161" y="146" width="3" height="6" fill="#ef5350"/>
<rect x="165" y="145" width="1" height="10" fill="#26a69a"/>
<rect x="164" y="150" width="3" height="2" fill="#26a69a"/>
<rect x="168" y="148" width="1" height="16" fill="#ef5350"/>
<rect x="167" y="150" width="3" height="7" fill="#ef5350"/>
<rect x="170" y="155" width="1" height="30" fill="#ef5350"/>
<rect x="169" y="157" width="3" height="23" fill="#ef5350"/>
<rect x="173" y="173" width="1" height="8" fill="#26a69a"/>
<rect x="172" y="176" width="3" height="4" fill="#26a69a"/>
<rect x="176" y="160" width="1" height="21" fill="#26a69a"/>
<rect x="175" y="165" width="3" height="12" fill="#26a69a"/>
<rect x="179" y="163" width="1" height="24" fill="#ef5350"/>
<rect x="178" y="164" width="3" height="18" fill="#ef5350"/>
<rect x="182" y="174" width="1" height="16" fill="#26a69a"/>
<rect x="181" y="176" width="3" height="6" fill="#26a69a"/>
<rect x="185" y="175" width="1" height="8" fill="#ef5350"/>
<rect x="184" y="176" width="3" height="3" fill="#ef5350"/>
<rect x="188" y="177" width="1" height="12" fill="#ef5350"/>
<rect x="187" y="179" width="3" height="6" fill="#ef5350"/>
<rect x="191" y="178" width="1" height="22" fill="#ef5350"/>
<rect x="190" y="185" width="3" height="10" fill="#ef5350"/>
<rect x="194" y="189" width="1" height="8" fill="#26a69a"/>
<rect x="193" y="193" width="3" height="2" fill="#26a69a"/>
<rect x="197" y="185" width="1" height="14" fill="#26a69a"/>
<rect x="196" y="191" width="3" height="2" fill="#26a69a"/>
<rect x="200" y="190" width="1" height="27" fill="#ef5350"/>
<rect x="199" y="192" width="3" height="16" fill="#ef5350"/>
<rect x="203" y="207" width="1" height="10" fill="#ef5350"/>
<rect x="202" y="208" width="3" height="3" fill="#ef5350"/>
<rect x="206" y="205" width="1" height="11" fill="#ef5350"/>
<rect x="205" y="210" width="3" height="2" fill="#ef5350"/>
<rect x="209" y="210" width="1" height="39" fill="#ef5350"/>
<rect x="208" y="212" width="3" height="25" fill="#ef5350"/>
<rect x="212" y="230" width="1" height="48" fill="#ef5350"/>
<rect x="211" y="236" width="3" height="17" fill="#ef5350"/>
<rect x="215" y="248" width="1" height="13" fill="#26a69a"/>
<rect x="214" y="250" width="3" height="3" fill="#26a69a"/>
<rect x="218" y="249" width="1" height="25" fill="#ef5350"/>
<rect x="217" y="250" width="3" height="22" fill="#ef5350"/>
<rect x="221" y="247" width="1" height="44" fill="#26a69a"/>
<rect x="220" y="260" width="3" height="12" fill="#26a69a"/>
<rect x="223" y="249" width="1" height="15" fill="#26a69a"/>
<rect x="222" y="259" width="3" height="2" fill="#26a69a"/>
<rect x="226" y="232" width="1" height="43" fill="#26a69a"/>
<rect x="225" y="240" width="3" height="19" fill="#26a69a"/>
<rect x="229" y="233" width="1" height="16" fill="#ef5350"/>
<rect x="228" y="240" width="3" height="6" fill="#ef5350"/>
<rect x="232" y="223" width="1" height="24" fill="#26a69a"/>
<rect x="231" y="228" width="3" height="18" fill="#26a69a"/>
<rect x="235" y="225" width="1" height="17" fill="#ef5350"/>
<rect x="234" y="228" width="3" height="11" fill="#ef5350"/>
<rect x="238" y="238" width="1" height="17" fill="#ef5350"/>
<rect x="237" y="239" width="3" height="8" fill="#ef5350"/>
<rect x="241" y="245" width="1" height="14" fill="#ef5350"/>
<rect x="240" y="246" width="3" height="5" fill="#ef5350"/>
<rect x="244" y="246" width="1" height="10" fill="#ef5350"/>
<rect x="243" y="250" width="3" height="2" fill="#ef5350"/>
<rect x="247" y="228" width="1" height="35" fill="#ef5350"/>
<rect x="246" y="251" width="3" height="5" fill="#ef5350"/>
<rect x="250" y="243" width="1" height="17" fill="#26a69a"/>
<rect x="249" y="247" width="3" height="9" fill="#26a69a"/>
<rect x="253" y="236" width="1" height="16" fill="#26a69a"/>
<rect x="252" y="239" width="3" height="8" fill="#26a69a"/>
<rect x="256" y="234" width="1" height="9" fill="#ef5350"/>
<rect x="255" y="239" width="3" height="3" fill="#ef5350"/>
<rect x="259" y="237" width="1" height="11" fill="#26a69a"/>
<rect x="258" y="240" width="3" height="2" fill="#26a69a"/>
<rect x="262" y="233" width="1" height="21" fill="#ef5350"/>
<rect x="261" y="240" width="3" height="7" fill="#ef5350"/>
<rect x="265" y="245" width="1" height="14" fill="#ef5350"/>
<rect x="264" y="248" width="3" height="7" fill="#ef5350"/>
<rect x="268" y="252" width="1" height="9" fill="#ef5350"/>
<rect x="267" y="254" width="3" height="2" fill="#ef5350"/>
<rect x="271" y="251" width="1" height="11" fill="#ef5350"/>
<rect x="270" y="256" width="3" height="1" fill="#ef5350"/>
<rect x="274" y="251" width="1" height="7" fill="#26a69a"/>
<rect x="273" y="254" width="3" height="3" fill="#26a69a"/>
<rect x="276" y="253" width="1" height="14" fill="#ef5350"/>
<rect x="275" y="254" width="3" height="9" fill="#ef5350"/>
<rect x="279" y="255" width="1" height="12" fill="#26a69a"/>
<rect x="278" y="261" width="3" height="3" fill="#26a69a"/>
<rect x="282" y="259" width="1" height="18" fill="#ef5350"/>
<rect x="281" y="261" width="3" height="11" fill="#ef5350"/>
<rect x="285" y="269" width="1" height="20" fill="#ef5350"/>
<rect x="284" y="272" width="3" height="14" fill="#ef5350"/>
<rect x="288" y="244" width="1" height="50" fill="#26a69a"/>
<rect x="287" y="253" width="3" height="33" fill="#26a69a"/>
<rect x="291" y="248" width="1" height="16" fill="#ef5350"/>
<rect x="290" y="252" width="3" height="8" fill="#ef5350"/>
<rect x="294" y="255" width="1" height="8" fill="#26a69a"/>
<rect x="293" y="257" width="3" height="3" fill="#26a69a"/>
<rect x="297" y="256" width="1" height="5" fill="#26a69a"/>
<rect x="296" y="257" width="3" height="3" fill="#26a69a"/>
<rect x="300" y="240" width="1" height="21" fill="#26a69a"/>
<rect x="299" y="241" width="3" height="19" fill="#26a69a"/>
<rect x="303" y="232" width="1" height="21" fill="#ef5350"/>
<rect x="302" y="241" width="3" height="10" fill="#ef5350"/>
<rect x="306" y="245" width="1" height="15" fill="#ef5350"/>
<rect x="305" y="250" width="3" height="4" fill="#ef5350"/>
<rect x="309" y="253" width="1" height="8" fill="#ef5350"/>
<rect x="308" y="254" width="3" height="3" fill="#ef5350"/>
<rect x="312" y="245" width="1" height="15" fill="#26a69a"/>
<rect x="311" y="256" width="3" height="1" fill="#26a69a"/>
<rect x="315" y="254" width="1" height="10" fill="#26a69a"/>
<rect x="314" y="254" width="3" height="2" fill="#26a69a"/>
<rect x="318" y="249" width="1" height="7" fill="#26a69a"/>
<rect x="317" y="250" width="3" height="5" fill="#26a69a"/>
<rect x="321" y="240" width="1" height="12" fill="#26a69a"/>
<rect x="320" y="247" width="3" height="4" fill="#26a69a"/>
<rect x="324" y="246" width="1" height="11" fill="#ef5350"/>
<rect x="323" y="247" width="3" height="9" fill="#ef5350"/>
<rect x="327" y="251" width="1" height="10" fill="#ef5350"/>
<rect x="326" y="255" width="3" height="3" fill="#ef5350"/>
<rect x="330" y="254" width="1" height="5" fill="#ef5350"/>
<rect x="329" y="257" width="3" height="2" fill="#ef5350"/>
<rect x="332" y="256" width="1" height="16" fill="#ef5350"/>
<rect x="331" y="257" width="3" height="13" fill="#ef5350"/>
<rect x="335" y="246" width="1" height="28" fill="#26a69a"/>
<rect x="334" y="250" width="3" height="20" fill="#26a69a"/>
<rect x="338" y="246" width="1" height="8" fill="#26a69a"/>
<rect x="337" y="248" width="3" height="2" fill="#26a69a"/>
<rect x="341" y="242" width="1" height="9" fill="#26a69a"/>
<rect x="340" y="248" width="3" height="1" fill="#26a69a"/>
<rect x="344" y="226" width="1" height="24" fill="#26a69a"/>
<rect x="343" y="227" width="3" height="22" fill="#26a69a"/>
<rect x="347" y="206" width="1" height="25" fill="#26a69a"/>
<rect x="346" y="209" width="3" height="20" fill="#26a69a"/>
<rect x="350" y="193" width="1" height="25" fill="#ef5350"/>
<rect x="349" y="209" width="3" height="6" fill="#ef5350"/>
<rect x="353" y="213" width="1" height="17" fill="#ef5350"/>
<rect x="352" y="214" width="3" height="13" fill="#ef5350"/>
<rect x="356" y="206" width="1" height="28" fill="#26a69a"/>
<rect x="355" y="207" width="3" height="20" fill="#26a69a"/>
<rect x="359" y="202" width="1" height="16" fill="#ef5350"/>
<rect x="358" y="207" width="3" height="9" fill="#ef5350"/>
<rect x="362" y="207" width="1" height="12" fill="#26a69a"/>
<rect x="361" y="208" width="3" height="8" fill="#26a69a"/>
<rect x="365" y="207" width="1" height="7" fill="#ef5350"/>
<rect x="364" y="208" width="3" height="3" fill="#ef5350"/>
<rect x="368" y="172" width="1" height="41" fill="#26a69a"/>
<rect x="367" y="176" width="3" height="35" fill="#26a69a"/>
<rect x="371" y="173" width="1" height="17" fill="#ef5350"/>
<rect x="370" y="176" width="3" height="1" fill="#ef5350"/>
<rect x="374" y="174" width="1" height="15" fill="#ef5350"/>
<rect x="373" y="176" width="3" height="5" fill="#ef5350"/>
<rect x="377" y="166" width="1" height="18" fill="#26a69a"/>
<rect x="376" y="173" width="3" height="9" fill="#26a69a"/>
<rect x="380" y="168" width="1" height="10" fill="#26a69a"/>
<rect x="379" y="171" width="3" height="2" fill="#26a69a"/>
<rect x="383" y="157" width="1" height="37" fill="#ef5350"/>
<rect x="382" y="171" width="3" height="12" fill="#ef5350"/>
<rect x="385" y="179" width="1" height="13" fill="#ef5350"/>
<rect x="384" y="182" width="3" height="3" fill="#ef5350"/>
<rect x="388" y="178" width="1" height="16" fill="#26a69a"/>
<rect x="387" y="181" width="3" height="5" fill="#26a69a"/>
<rect x="391" y="177" width="1" height="12" fill="#ef5350"/>
<rect x="390" y="181" width="3" height="3" fill="#ef5350"/>
<rect x="394" y="182" width="1" height="22" fill="#ef5350"/>
<rect x="393" y="184" width="3" height="14" fill="#ef5350"/>
<rect x="397" y="191" width="1" height="16" fill="#26a69a"/>
<rect x="396" y="195" width="3" height="3" fill="#26a69a"/>
<rect x="400" y="193" width="1" height="12" fill="#ef5350"/>
<rect x="399" y="195" width="3" height="6" fill="#ef5350"/>
<rect x="403" y="186" width="1" height="18" fill="#26a69a"/>
<rect x="402" y="187" width="3" height="14" fill="#26a69a"/>
<rect x="406" y="168" width="1" height="21" fill="#26a69a"/>
<rect x="405" y="172" width="3" height="16" fill="#26a69a"/>
<rect x="409" y="146" width="1" height="28" fill="#26a69a"/>
<rect x="408" y="147" width="3" height="26" fill="#26a69a"/>
<rect x="412" y="145" width="1" height="12" fill="#ef5350"/>
<rect x="411" y="147" width="3" height="7" fill="#ef5350"/>
<rect x="415" y="138" width="1" height="21" fill="#26a69a"/>
<rect x="414" y="142" width="3" height="12" fill="#26a69a"/>
<rect x="418" y="140" width="1" height="18" fill="#ef5350"/>
<rect x="417" y="142" width="3" height="9" fill="#ef5350"/>
<rect x="421" y="144" width="1" height="10" fill="#26a69a"/>
<rect x="420" y="148" width="3" height="3" fill="#26a69a"/>
<rect x="424" y="142" width="1" height="19" fill="#ef5350"/>
<rect x="423" y="148" width="3" height="4" fill="#ef5350"/>
<rect x="427" y="136" width="1" height="21" fill="#ef5350"/>
<rect x="426" y="152" width="3" height="2" fill="#ef5350"/>
<rect x="430" y="149" width="1" height="15" fill="#ef5350"/>
<rect x="429" y="153" width="3" height="6" fill="#ef5350"/>
<rect x="433" y="129" width="1" height="31" fill="#26a69a"/>
<rect x="432" y="137" width="3" height="22" fill="#26a69a"/>
<rect x="436" y="124" width="1" height="18" fill="#26a69a"/>
<rect x="435" y="129" width="3" height="8" fill="#26a69a"/>
<rect x="438" y="123" width="1" height="11" fill="#26a69a"/>
<rect x="437" y="126" width="3" height="4" fill="#26a69a"/>
<rect x="441" y="119" width="1" height="15" fill="#26a69a"/>
<rect x="440" y="122" width="3" height="5" fill="#26a69a"/>
<rect x="444" y="108" width="1" height="16" fill="#26a69a"/>
<rect x="443" y="109" width="3" height="14" fill="#26a69a"/>
<rect x="447" y="107" width="1" height="24" fill="#ef5350"/>
<rect x="446" y="109" width="3" height="17" fill="#ef5350"/>
<rect x="450" y="97" width="1" height="35" fill="#26a69a"/>
<rect x="449" y="105" width="3" height="21" fill="#26a69a"/>
<rect x="453" y="93" width="1" height="13" fill="#26a69a"/>
<rect x="452" y="100" width="3" height="5" fill="#26a69a"/>
<rect x="456" y="91" width="1" height="23" fill="#ef5350"/>
<rect x="455" y="100" width="3" height="5" fill="#ef5350"/>
<rect x="459" y="98" width="1" height="15" fill="#26a69a"/>
<rect x="458" y="99" width="3" height="6" fill="#26a69a"/>
<rect x="462" y="97" width="1" height="34" fill="#ef5350"/>
<rect x="461" y="99" width="3" height="23" fill="#ef5350"/>
<rect x="465" y="115" width="1" height="22" fill="#26a69a"/>
<rect x="464" y="121" width="3" height="1" fill="#26a69a"/>
<rect x="468" y="119" width="1" height="26" fill="#ef5350"/>
<rect x="467" y="121" width="3" height="12" fill="#ef5350"/>
<rect x="471" y="102" width="1" height="32" fill="#26a69a"/>
<rect x="470" y="108" width="3" height="25" fill="#26a69a"/>
<rect x="474" y="102" width="1" height="52" fill="#ef5350"/>
<rect x="473" y="108" width="3" height="29" fill="#ef5350"/>
<rect x="477" y="132" width="1" height="16" fill="#26a69a"/>
<rect x="476" y="137" width="3" height="1" fill="#26a69a"/>
<rect x="480" y="129" width="1" height="10" fill="#26a69a"/>
<rect x="479" y="132" width="3" height="5" fill="#26a69a"/>
<rect x="483" y="131" width="1" height="8" fill="#ef5350"/>
<rect x="482" y="132" width="3" height="2" fill="#ef5350"/>
<rect x="486" y="116" width="1" height="19" fill="#26a69a"/>
<rect x="485" y="119" width="3" height="15" fill="#26a69a"/>
<rect x="489" y="116" width="1" height="27" fill="#ef5350"/>
<rect x="488" y="119" width="3" height="15" fill="#ef5350"/>
<rect x="491" y="133" width="1" height="21" fill="#ef5350"/>
<rect x="490" y="134" width="3" height="18" fill="#ef5350"/>
<rect x="494" y="148" width="1" height="40" fill="#ef5350"/>
<rect x="493" y="152" width="3" height="27" fill="#ef5350"/>
<rect x="497" y="168" width="1" height="24" fill="#26a69a"/>
<rect x="496" y="176" width="3" height="3" fill="#26a69a"/>
<rect x="500" y="172" width="1" height="24" fill="#ef5350"/>
<rect x="499" y="176" width="3" height="5" fill="#ef5350"/>
<rect x="503" y="179" width="1" height="13" fill="#ef5350"/>
<rect x="502" y="181" width="3" height="10" fill="#ef5350"/>
<rect x="506" y="179" width="1" height="19" fill="#ef5350"/>
<rect x="505" y="190" width="3" height="2" fill="#ef5350"/>
<rect x="509" y="168" width="1" height="25" fill="#26a69a"/>
<rect x="508" y="171" width="3" height="21" fill="#26a69a"/>
<rect x="512" y="170" width="1" height="16" fill="#ef5350"/>
<rect x="511" y="171" width="3" height="9" fill="#ef5350"/>
<rect x="515" y="174" width="1" height="10" fill="#26a69a"/>
<rect x="514" y="179" width="3" height="1" fill="#26a69a"/>
<rect x="518" y="158" width="1" height="22" fill="#26a69a"/>
<rect x="517" y="163" width="3" height="17" fill="#26a69a"/>
<rect x="521" y="158" width="1" height="10" fill="#26a69a"/>
<rect x="520" y="159" width="3" height="5" fill="#26a69a"/>
<rect x="524" y="156" width="1" height="19" fill="#ef5350"/>
<rect x="523" y="159" width="3" height="14" fill="#ef5350"/>
<rect x="527" y="171" width="1" height="46" fill="#ef5350"/>
<rect x="526" y="172" width="3" height="44" fill="#ef5350"/>
<rect x="530" y="207" width="1" height="29" fill="#ef5350"/>
<rect x="529" y="215" width="3" height="6" fill="#ef5350"/>
<rect x="533" y="209" width="1" height="22" fill="#ef5350"/>
<rect x="532" y="220" width="3" height="3" fill="#ef5350"/>
<rect x="536" y="217" width="1" height="21" fill="#26a69a"/>
<rect x="535" y="220" width="3" height="3" fill="#26a69a"/>
<rect x="539" y="218" width="1" height="166" fill="#ef5350"/>
<rect x="538" y="220" width="3" height="154" fill="#ef5350"/>
<rect x="542" y="316" width="1" height="93" fill="#26a69a"/>
<rect x="541" y="334" width="3" height="40" fill="#26a69a"/>
<rect x="544" y="332" width="1" height="32" fill="#ef5350"/>
<rect x="543" y="334" width="3" height="24" fill="#ef5350"/>
<rect x="547" y="317" width="1" height="45" fill="#26a69a"/>
<rect x="546" y="348" width="3" height="10" fill="#26a69a"/>
<rect x="550" y="346" width="1" height="48" fill="#ef5350"/>
<rect x="549" y="348" width="3" height="16" fill="#ef5350"/>
<rect x="553" y="337" width="1" height="33" fill="#26a69a"/>
<rect x="552" y="349" width="3" height="15" fill="#26a69a"/>
<rect x="556" y="343" width="1" height="23" fill="#26a69a"/>
<rect x="555" y="345" width="3" height="5" fill="#26a69a"/>
<rect x="559" y="305" width="1" height="48" fill="#26a69a"/>
<rect x="558" y="307" width="3" height="39" fill="#26a69a"/>
<rect x="562" y="267" width="1" height="67" fill="#26a69a"/>
<rect x="561" y="306" width="3" height="2" fill="#26a69a"/>
<rect x="565" y="292" width="1" height="32" fill="#ef5350"/>
<rect x="564" y="306" width="3" height="2" fill="#ef5350"/>
<rect x="568" y="295" width="1" height="35" fill="#ef5350"/>
<rect x="567" y="306" width="3" height="20" fill="#ef5350"/>
<rect x="571" y="284" width="1" height="49" fill="#26a69a"/>
<rect x="570" y="291" width="3" height="35" fill="#26a69a"/>
<rect x="574" y="273" width="1" height="25" fill="#26a69a"/>
<rect x="573" y="278" width="3" height="14" fill="#26a69a"/>
<rect x="577" y="267" width="1" height="26" fill="#ef5350"/>
<rect x="576" y="278" width="3" height="4" fill="#ef5350"/>
<rect x="580" y="276" width="1" height="15" fill="#26a69a"/>
<rect x="579" y="278" width="3" height="4" fill="#26a69a"/>
<rect x="583" y="272" width="1" height="33" fill="#ef5350"/>
<rect x="582" y="278" width="3" height="20" fill="#ef5350"/>
<rect x="586" y="296" width="1" height="19" fill="#ef5350"/>
<rect x="585" y="297" width="3" height="7" fill="#ef5350"/>
<rect x="589" y="300" width="1" height="24" fill="#ef5350"/>
<rect x="588" y="303" width="3" height="20" fill="#ef5350"/>
<rect x="592" y="284" width="1" height="40" fill="#26a69a"/>
<rect x="591" y="296" width="3" height="27" fill="#26a69a"/>
<rect x="595" y="289" width="1" height="11" fill="#26a69a"/>
<rect x="594" y="294" width="3" height="3" fill="#26a69a"/>
<rect x="597" y="279" width="1" height="30" fill="#26a69a"/>
<rect x="596" y="283" width="3" height="12" fill="#26a69a"/>
<rect x="600" y="252" width="1" height="35" fill="#26a69a"/>
<rect x="599" y="277" width="3" height="7" fill="#26a69a"/>
<rect x="603" y="264" width="1" height="23" fill="#ef5350"/>
<rect x="602" y="277" width="3" height="3" fill="#ef5350"/>
<rect x="606" y="265" width="1" height="18" fill="#26a69a"/>
<rect x="605" y="272" width="3" height="8" fill="#26a69a"/>
<rect x="609" y="270" width="1" height="13" fill="#ef5350"/>
<rect x="608" y="272" width="3" height="6" fill="#ef5350"/>
<rect x="612" y="248" width="1" height="30" fill="#26a69a"/>
<rect x="611" y="249" width="3" height="29" fill="#26a69a"/>
<rect x="615" y="243" width="1" height="21" fill="#ef5350"/>
<rect x="614" y="249" width="3" height="8" fill="#ef5350"/>
<rect x="618" y="245" width="1" height="14" fill="#26a69a"/>
<rect x="617" y="248" width="3" height="9" fill="#26a69a"/>
<rect x="621" y="246" width="1" height="16" fill="#ef5350"/>
<rect x="620" y="248" width="3" height="5" fill="#ef5350"/>
<rect x="624" y="250" width="1" height="30" fill="#ef5350"/>
<rect x="623" y="252" width="3" height="21" fill="#ef5350"/>
<rect x="627" y="268" width="1" height="10" fill="#26a69a"/>
<rect x="626" y="272" width="3" height="1" fill="#26a69a"/>
<rect x="630" y="256" width="1" height="22" fill="#26a69a"/>
<rect x="629" y="271" width="3" height="2" fill="#26a69a"/>
<rect x="633" y="270" width="1" height="19" fill="#ef5350"/>
<rect x="632" y="272" width="3" height="2" fill="#ef5350"/>
<rect x="636" y="266" width="1" height="12" fill="#26a69a"/>
<rect x="635" y="272" width="3" height="2" fill="#26a69a"/>
<rect x="639" y="269" width="1" height="18" fill="#ef5350"/>
<rect x="638" y="272" width="3" height="14" fill="#ef5350"/>
<rect x="642" y="255" width="1" height="39" fill="#26a69a"/>
<rect x="641" y="261" width="3" height="25" fill="#26a69a"/>
<rect x="645" y="258" width="1" height="9" fill="#ef5350"/>
<rect x="644" y="260" width="3" height="5" fill="#ef5350"/>
<rect x="648" y="251" width="1" height="15" fill="#26a69a"/>
<rect x="647" y="253" width="3" height="12" fill="#26a69a"/>
<rect x="651" y="252" width="1" height="9" fill="#ef5350"/>
<rect x="650" y="253" width="3" height="7" fill="#ef5350"/>
<rect x="653" y="255" width="1" height="25" fill="#ef5350"/>
<rect x="652" y="260" width="3" height="14" fill="#ef5350"/>
<rect x="656" y="267" width="1" height="11" fill="#26a69a"/>
<rect x="655" y="272" width="3" height="2" fill="#26a69a"/>
<rect x="659" y="258" width="1" height="18" fill="#26a69a"/>
<rect x="658" y="259" width="3" height="15" fill="#26a69a"/>
<rect x="662" y="228" width="1" height="38" fill="#26a69a"/>
<rect x="661" y="242" width="3" height="18" fill="#26a69a"/>
<rect x="665" y="236" width="1" height="12" fill="#26a69a"/>
<rect x="664" y="241" width="3" height="2" fill="#26a69a"/>
<rect x="668" y="230" width="1" height="15" fill="#26a69a"/>
<rect x="667" y="240" width="3" height="2" fill="#26a69a"/>
<rect x="671" y="230" width="1" height="13" fill="#26a69a"/>
<rect x="670" y="231" width="3" height="9" fill="#26a69a"/>
<rect x="674" y="226" width="1" height="10" fill="#26a69a"/>
<rect x="673" y="227" width="3" height="4" fill="#26a69a"/>
<rect x="677" y="226" width="1" height="8" fill="#ef5350"/>
<rect x="676" y="227" width="3" height="3" fill="#ef5350"/>
<rect x="680" y="167" width="1" height="64" fill="#26a69a"/>
<rect x="679" y="177" width="3" height="53" fill="#26a69a"/>
<rect x="683" y="143" width="1" height="54" fill="#ef5350"/>
<rect x="682" y="177" width="3" height="10" fill="#ef5350"/>
<rect x="686" y="163" width="1" height="24" fill="#26a69a"/>
<rect x="685" y="175" width="3" height="12" fill="#26a69a"/>
<rect x="689" y="166" width="1" height="14" fill="#26a69a"/>
<rect x="688" y="168" width="3" height="8" fill="#26a69a"/>
<rect x="692" y="157" width="1" height="24" fill="#ef5350"/>
<rect x="691" y="168" width="3" height="4" fill="#ef5350"/>
<rect x="695" y="170" width="1" height="21" fill="#ef5350"/>
<rect x="694" y="171" width="3" height="3" fill="#ef5350"/>
<rect x="698" y="163" width="1" height="14" fill="#26a69a"/>
<rect x="697" y="165" width="3" height="8" fill="#26a69a"/>
<rect x="701" y="146" width="1" height="25" fill="#26a69a"/>
<rect x="700" y="159" width="3" height="7" fill="#26a69a"/>
<rect x="704" y="113" width="1" height="53" fill="#26a69a"/>
<rect x="703" y="117" width="3" height="43" fill="#26a69a"/>
<rect x="706" y="115" width="1" height="17" fill="#ef5350"/>
<rect x="705" y="117" width="3" height="11" fill="#ef5350"/>
<rect x="709" y="125" width="1" height="19" fill="#ef5350"/>
<rect x="708" y="127" width="3" height="14" fill="#ef5350"/>
<rect x="712" y="139" width="1" height="73" fill="#ef5350"/>
<rect x="711" y="140" width="3" height="41" fill="#ef5350"/>
<rect x="715" y="178" width="1" height="30" fill="#ef5350"/>
<rect x="714" y="180" width="3" height="9" fill="#ef5350"/>
<rect x="718" y="167" width="1" height="24" fill="#26a69a"/>
<rect x="717" y="177" width="3" height="12" fill="#26a69a"/>
<rect x="721" y="146" width="1" height="33" fill="#26a69a"/>
<rect x="720" y="151" width="3" height="26" fill="#26a69a"/>
<rect x="724" y="120" width="1" height="34" fill="#26a69a"/>
<rect x="723" y="126" width="3" height="26" fill="#26a69a"/>
<rect x="727" y="125" width="1" height="37" fill="#ef5350"/>
<rect x="726" y="126" width="3" height="26" fill="#ef5350"/>
<rect x="730" y="138" width="1" height="19" fill="#26a69a"/>
<rect x="729" y="148" width="3" height="4" fill="#26a69a"/>
<rect x="733" y="122" width="1" height="30" fill="#26a69a"/>
<rect x="732" y="133" width="3" height="16" fill="#26a69a"/>
<rect x="736" y="119" width="1" height="27" fill="#26a69a"/>
<rect x="735" y="131" width="3" height="3" fill="#26a69a"/>
<rect x="739" y="122" width="1" height="23" fill="#26a69a"/>
<rect x="738" y="128" width="3" height="4" fill="#26a69a"/>
<rect x="742" y="125" width="1" height="28" fill="#ef5350"/>
<rect x="741" y="128" width="3" height="14" fill="#ef5350"/>
<rect x="745" y="139" width="1" height="39" fill="#ef5350"/>
<rect x="744" y="142" width="3" height="23" fill="#ef5350"/>
<rect x="748" y="154" width="1" height="18" fill="#26a69a"/>
<rect x="747" y="157" width="3" height="8" fill="#26a69a"/>
<rect x="751" y="151" width="1" height="12" fill="#26a69a"/>
<rect x="750" y="157" width="3" height="2" fill="#26a69a"/>
<rect x="754" y="152" width="1" height="32" fill="#ef5350"/>
<rect x="753" y="157" width="3" height="26" fill="#ef5350"/>
<rect x="757" y="168" width="1" height="18" fill="#26a69a"/>
<rect x="756" y="172" width="3" height="10" fill="#26a69a"/>
<rect x="759" y="166" width="1" height="17" fill="#ef5350"/>
<rect x="758" y="172" width="3" height="4" fill="#ef5350"/>
<rect x="762" y="155" width="1" height="22" fill="#26a69a"/>
<rect x="761" y="157" width="3" height="19" fill="#26a69a"/>
<rect x="765" y="136" width="1" height="26" fill="#26a69a"/>
<rect x="764" y="138" width="3" height="19" fill="#26a69a"/>
<rect x="768" y="137" width="1" height="14" fill="#ef5350"/>
<rect x="767" y="138" width="3" height="9" fill="#ef5350"/>
<rect x="771" y="129" width="1" height="23" fill="#26a69a"/>
<rect x="770" y="132" width="3" height="15" fill="#26a69a"/>
<rect x="774" y="131" width="1" height="19" fill="#ef5350"/>
<rect x="773" y="132" width="3" height="14" fill="#ef5350"/>
<rect x="777" y="96" width="1" height="51" fill="#26a69a"/>
<rect x="776" y="106" width="3" height="40" fill="#26a69a"/>
<rect x="780" y="105" width="1" height="49" fill="#ef5350"/>
<rect x="779" y="106" width="3" height="35" fill="#ef5350"/>
<rect x="783" y="132" width="1" height="17" fill="#26a69a"/>
<rect x="782" y="134" width="3" height="7" fill="#26a69a"/>
<rect x="786" y="123" width="1" height="22" fill="#26a69a"/>
<rect x="785" y="128" width="3" height="7" fill="#26a69a"/>
<rect x="789" y="124" width="1" height="15" fill="#ef5350"/>
<rect x="788" y="128" width="3" height="9" fill="#ef5350"/>
<rect x="792" y="130" width="1" height="12" fill="#26a69a"/>
<rect x="791" y="135" width="3" height="2" fill="#26a69a"/>
<rect x="795" y="126" width="1" height="23" fill="#26a69a"/>
<rect x="794" y="130" width="3" height="5" fill="#26a69a"/>
<rect x="798" y="126" width="1" height="10" fill="#26a69a"/>
<rect x="797" y="128" width="3" height="3" fill="#26a69a"/>
<rect x="801" y="124" width="1" height="16" fill="#ef5350"/>
<rect x="800" y="128" width="3" height="1" fill="#ef5350"/>
<rect x="804" y="116" width="1" height="17" fill="#26a69a"/>
<rect x="803" y="122" width="3" height="7" fill="#26a69a"/>
<rect x="807" y="119" width="1" height="46" fill="#ef5350"/>
<rect x="806" y="122" width="3" height="33" fill="#ef5350"/>
<rect x="810" y="139" width="1" height="18" fill="#26a69a"/>
<rect x="809" y="144" width="3" height="11" fill="#26a69a"/>
<rect x="812" y="141" width="1" height="11" fill="#26a69a"/>
<rect x="811" y="143" width="3" height="2" fill="#26a69a"/>
<rect x="815" y="142" width="1" height="14" fill="#ef5350"/>
<rect x="814" y="143" width="3" height="9" fill="#ef5350"/>
<rect x="818" y="142" width="1" height="31" fill="#26a69a"/>
<rect x="817" y="145" width="3" height="7" fill="#26a69a"/>
<rect x="821" y="137" width="1" height="12" fill="#26a69a"/>
<rect x="820" y="141" width="3" height="4" fill="#26a69a"/>
<rect x="824" y="139" width="1" height="18" fill="#ef5350"/>
<rect x="823" y="141" width="3" height="3" fill="#ef5350"/>
<rect x="827" y="143" width="1" height="11" fill="#ef5350"/>
<rect x="826" y="144" width="3" height="4" fill="#ef5350"/>
<rect x="830" y="145" width="1" height="12" fill="#ef5350"/>
<rect x="829" y="148" width="3" height="5" fill="#ef5350"/>
<rect x="833" y="147" width="1" height="12" fill="#26a69a"/>
<rect x="832" y="150" width="3" height="3" fill="#26a69a"/>
<rect x="836" y="148" width="1" height="6" fill="#ef5350"/>
<rect x="835" y="149" width="3" height="4" fill="#ef5350"/>
<rect x="839" y="128" width="1" height="27" fill="#26a69a"/>
<rect x="838" y="133" width="3" height="21" fill="#26a69a"/>
<rect x="842" y="130" width="1" height="11" fill="#ef5350"/>
<rect x="841" y="133" width="3" height="3" fill="#ef5350"/>
<rect x="845" y="134" width="1" height="24" fill="#ef5350"/>
<rect x="844" y="135" width="3" height="19" fill="#ef5350"/>
<rect x="848" y="150" width="1" height="18" fill="#ef5350"/>
<rect x="847" y="153" width="3" height="3" fill="#ef5350"/>
<rect x="851" y="152" width="1" height="15" fill="#ef5350"/>
<rect x="850" y="155" width="3" height="4" fill="#ef5350"/>
<rect x="854" y="157" width="1" height="19" fill="#ef5350"/>
<rect x="853" y="159" width="3" height="8" fill="#ef5350"/>
<rect x="857" y="157" width="1" height="14" fill="#26a69a"/>
<rect x="856" y="162" width="3" height="5" fill="#26a69a"/>
<rect x="860" y="155" width="1" height="11" fill="#26a69a"/>
<rect x="859" y="157" width="3" height="6" fill="#26a69a"/>
<rect x="863" y="157" width="1" height="8" fill="#ef5350"/>
<rect x="862" y="157" width="3" height="4" fill="#ef5350"/>
<rect x="865" y="152" width="1" height="11" fill="#26a69a"/>
<rect x="864" y="155" width="3" height="6" fill="#26a69a"/>
<rect x="868" y="154" width="1" height="17" fill="#ef5350"/>
<rect x="867" y="155" width="3" height="8" fill="#ef5350"/>
<rect x="871" y="157" width="1" height="9" fill="#ef5350"/>
<rect x="870" y="162" width="3" height="3" fill="#ef5350"/>
<rect x="874" y="157" width="1" height="9" fill="#26a69a"/>
<rect x="873" y="160" width="3" height="5" fill="#26a69a"/>
<rect x="877" y="159" width="1" height="14" fill="#ef5350"/>
<rect x="876" y="160" width="3" height="4" fill="#ef5350"/>
<rect x="880" y="148" width="1" height="17" fill="#26a69a"/>
<rect x="879" y="149" width="3" height="15" fill="#26a69a"/>
<rect x="883" y="147" width="1" height="10" fill="#ef5350"/>
<rect x="882" y="149" width="3" height="6" fill="#ef5350"/>
<rect x="886" y="143" width="1" height="13" fill="#26a69a"/>
<rect x="885" y="145" width="3" height="10" fill="#26a69a"/>
<rect x="889" y="144" width="1" height="16" fill="#ef5350"/>
<rect x="888" y="145" width="3" height="11" fill="#ef5350"/>
<rect x="892" y="151" width="1" height="11" fill="#26a69a"/>
<rect x="891" y="152" width="3" height="4" fill="#26a69a"/>
<rect x="895" y="152" width="1" height="7" fill="#ef5350"/>
<rect x="894" y="152" width="3" height="5" fill="#ef5350"/>
<rect x="898" y="149" width="1" height="10" fill="#26a69a"/>
<rect x="897" y="152" width="3" height="5" fill="#26a69a"/>
<rect x="901" y="150" width="1" height="7" fill="#ef5350"/>
<rect x="900" y="152" width="3" height="4" fill="#ef5350"/>
<rect x="904" y="153" width="1" height="10" fill="#26a69a"/>
<rect x="903" y="154" width="3" height="2" fill="#26a69a"/>
<rect x="907" y="153" width="1" height="6" fill="#ef5350"/>
<rect x="906" y="154" width="3" height="3" fill="#ef5350"/>
<rect x="910" y="156" width="1" height="11" fill="#ef5350"/>
<rect x="909" y="157" width="3" height="4" fill="#ef5350"/>
<rect x="913" y="158" width="1" height="7" fill="#26a69a"/>
<rect x="912" y="159" width="3" height="2" fill="#26a69a"/>
<rect x="916" y="157" width="1" height="5" fill="#26a69a"/>
<rect x="915" y="158" width="3" height="1" fill="#26a69a"/>
<rect x="919" y="155" width="1" height="7" fill="#26a69a"/>
<rect x="918" y="156" width="3" height="3" fill="#26a69a"/>
<rect x="921" y="155" width="1" height="5" fill="#ef5350"/>
<rect x="920" y="156" width="3" height="3" fill="#ef5350"/>
<rect x="924" y="145" width="1" height="15" fill="#26a69a"/>
<rect x="923" y="147" width="3" height="12" fill="#26a69a"/>
<rect x="927" y="139" width="1" height="14" fill="#26a69a"/>
<rect x="926" y="141" width="3" height="7" fill="#26a69a"/>
<rect x="930" y="140" width="1" height="1" fill="#26a69a"/>
<rect x="929" y="140" width="3" height="1" fill="#26a69a"/>
</g>
<line x1="692" y1="77.2" x2="953.5" y2="168.3" stroke="#8b0d0d" stroke-width="2.1" stroke-linecap="round"/>
<line x1="765" y1="167.2" x2="1000" y2="167.2" stroke="#8b0000" stroke-width="2.1"/>
<polyline points="9.0,431.0 11.9,432.0 14.9,432.7 17.8,433.9 20.8,434.3 23.7,432.0 26.7,434.6 29.6,437.2 32.6,435.1 35.5,439.7 38.4,447.1 41.4,447.4 44.3,448.8 47.3,446.4 50.2,446.1 53.2,446.9 56.1,442.7 59.1,442.7 62.0,441.5 65.0,442.6 67.9,443.1 70.8,443.1 73.8,444.9 76.7,439.1 79.7,439.4 82.6,433.7 85.6,433.7 88.5,436.8 91.5,436.1 94.4,436.3 97.3,435.3 100.3,437.1 103.2,438.8 106.2,437.4 109.1,438.6 112.1,438.1 115.0,434.0 118.0,434.4 120.9,436.4 123.8,441.1 126.8,441.4 129.7,428.0 132.7,424.5 135.6,422.9 138.6,425.9 141.5,424.7 144.5,427.1 147.4,427.1 150.4,426.4 153.3,426.1 156.2,427.3 159.2,425.6 162.1,426.8 165.1,426.5 168.0,428.1 171.0,432.5 173.9,431.7 176.9,429.7 179.8,432.8 182.8,431.6 185.7,432.3 188.6,433.4 191.6,435.0 194.5,434.6 197.5,434.2 200.4,437.2 203.4,437.6 206.3,437.9 209.3,441.5 212.2,443.4 215.1,442.5 218.1,444.8 221.0,441.4 224.0,441.0 226.9,436.5 229.9,437.3 232.8,433.3 235.8,435.2 238.7,436.2 241.7,436.9 244.6,437.1 247.5,437.7 250.5,435.3 253.4,433.3 256.4,433.9 259.3,433.4 262.3,435.0 265.2,436.4 268.2,436.8 271.1,436.9 274.0,435.9 277.0,437.9 279.9,437.1 282.9,439.5 285.8,441.7 288.8,432.3 291.7,433.7 294.7,433.1 297.6,433.1 300.5,429.2 303.5,431.6 306.4,432.2 309.4,432.9 312.3,432.5 315.3,432.1 318.2,431.1 321.2,430.1 324.1,432.5 327.1,433.2 330.0,433.4 332.9,436.4 335.9,430.2 338.8,429.9 341.8,429.7 344.7,424.8 347.7,421.6 350.6,423.7 353.6,427.0 356.5,423.6 359.4,425.9 362.4,424.6 365.3,425.4 368.3,420.5 371.2,420.7 374.2,422.1 377.1,420.9 380.1,420.7 383.0,424.0 386.0,424.6 388.9,424.0 391.8,424.9 394.8,428.6 397.7,428.0 400.7,429.6 403.6,426.6 406.6,423.9 409.5,420.4 412.5,422.3 415.4,420.8 418.3,423.3 421.3,422.8 424.2,423.9 427.2,424.4 430.1,426.0 433.1,422.3 436.0,421.2 439.0,420.8 441.9,420.3 444.9,418.6 447.8,423.6 450.7,420.8 453.7,420.3 456.6,421.7 459.6,420.9 462.5,426.8 465.5,426.6 468.4,429.3 471.4,425.3 474.3,430.8 477.2,430.7 480.2,429.8 483.1,430.4 486.1,427.7 489.0,430.6 492.0,433.6 494.9,437.1 497.9,436.6 500.8,437.2 503.8,438.6 506.7,438.7 509.6,434.2 512.6,435.5 515.5,435.3 518.5,432.0 521.4,431.3 524.4,433.7 527.3,439.3 530.3,439.8 533.2,440.0 536.1,439.5 539.1,448.7 542.0,443.1 545.0,444.2 547.9,442.9 550.9,443.7 553.8,441.7 556.8,441.1 559.7,436.4 562.7,436.3 565.6,436.5 568.5,437.9 571.5,433.7 574.4,432.3 577.4,432.6 580.3,432.2 583.3,434.3 586.2,434.9 589.2,436.7 592.1,433.2 595.0,433.0 598.0,431.6 600.9,430.7 603.9,431.1 606.8,430.1 609.8,430.8 612.7,427.1 615.7,428.4 618.6,427.2 621.6,428.0 624.5,431.2 627.4,431.0 630.4,430.9 633.3,431.4 636.3,431.1 639.2,433.5 642.2,429.0 645.1,429.8 648.1,427.9 651.0,429.3 654.0,431.9 656.9,431.5 659.8,429.0 662.8,426.4 665.7,426.2 668.7,426.0 671.6,424.7 674.6,424.1 677.5,424.8 680.5,418.5 683.4,420.8 686.3,419.6 689.3,419.0 692.2,420.0 695.2,420.4 698.1,419.5 701.1,418.9 704.0,415.4 707.0,418.1 709.9,421.1 712.8,428.4 715.8,429.6 718.7,428.0 721.7,425.0 724.6,422.7 727.6,426.6 730.5,426.3 733.5,424.7 736.4,424.5 739.4,424.3 742.3,426.7 745.2,430.3 748.2,429.2 751.1,429.2 754.1,433.0 757.0,431.4 760.0,431.9 762.9,429.1 765.9,426.7 768.8,428.2 771.8,426.3 774.7,428.6 777.6,424.2 780.6,429.0 783.5,428.3 786.5,427.6 789.4,428.9 792.4,428.6 795.3,428.1 798.3,427.8 801.2,428.0 804.1,426.9 807.1,432.5 810.0,430.8 813.0,430.7 815.9,432.1 818.9,430.9 821.8,430.1 824.8,430.8 827.7,431.6 830.6,432.5 833.6,431.8 836.5,432.5 839.5,428.3 842.4,429.0 845.4,432.7 848.3,433.1 851.3,433.8 854.2,435.4 857.2,434.0 860.1,432.8 863.0,433.6 866.0,432.0 868.9,433.7 871.9,434.3 874.8,432.8 877.8,433.8 880.7,429.7 883.7,431.3 886.6,428.7 889.5,431.6 892.5,430.7 895.4,431.8 898.4,430.6 901.3,431.6 904.3,431.0 907.2,432.1 910.2,433.0 913.1,432.4 916.1,432.1 919.0,431.4 921.9,432.7 924.9,428.3 927.8,426.3 930.8,426.2" fill="none" stroke="#8e24aa" stroke-width="1.2" stroke-linejoin="round" stroke-linecap="round"/>
<g shape-rendering="crispEdges">
<rect x="8" y="467.8" width="1" height="1.0" fill="#26a69a"/>
<rect x="11" y="467.9" width="1" height="1.0" fill="#b2dfdb"/>
<rect x="14" y="468.0" width="1" height="1.0" fill="#b2dfdb"/>
<rect x="17" y="468.2" width="1" height="1.0" fill="#b2dfdb"/>
<rect x="20" y="468.3" width="1" height="1.0" fill="#b2dfdb"/>
<rect x="23" y="468.3" width="1" height="1.0" fill="#26a69a"/>
<rect x="26" y="468.4" width="1" height="1.0" fill="#b2dfdb"/>
<rect x="29" y="468.5" width="1" height="1.0" fill="#ef5350"/>
<rect x="32" y="468.5" width="1" height="1.0" fill="#ef5350"/>
<rect x="35" y="468.5" width="1" height="1.0" fill="#ef5350"/>
<rect x="38" y="468.5" width="1" height="2.6" fill="#ef5350"/>
<rect x="41" y="468.5" width="1" height="3.8" fill="#ef5350"/>
<rect x="44" y="468.5" width="1" height="4.8" fill="#ef5350"/>
<rect x="47" y="468.5" width="1" height="4.9" fill="#ef5350"/>
<rect x="50" y="468.5" width="1" height="4.7" fill="#ffcdd2"/>
<rect x="53" y="468.5" width="1" height="4.4" fill="#ffcdd2"/>
<rect x="56" y="468.5" width="1" height="3.6" fill="#ffcdd2"/>
<rect x="59" y="468.5" width="1" height="2.8" fill="#ffcdd2"/>
<rect x="62" y="468.5" width="1" height="2.0" fill="#ffcdd2"/>
<rect x="64" y="468.5" width="1" height="1.5" fill="#ffcdd2"/>
<rect x="67" y="468.5" width="1" height="1.1" fill="#ffcdd2"/>
<rect x="70" y="468.5" width="1" height="1.0" fill="#ffcdd2"/>
<rect x="73" y="468.5" width="1" height="1.0" fill="#ef5350"/>
<rect x="76" y="468.5" width="1" height="1.0" fill="#ffcdd2"/>
<rect x="79" y="468.2" width="1" height="1.0" fill="#26a69a"/>
<rect x="82" y="467.2" width="1" height="1.3" fill="#26a69a"/>
<rect x="85" y="466.6" width="1" height="1.9" fill="#26a69a"/>
<rect x="88" y="466.7" width="1" height="1.8" fill="#b2dfdb"/>
<rect x="91" y="466.7" width="1" height="1.8" fill="#26a69a"/>
<rect x="94" y="466.7" width="1" height="1.8" fill="#b2dfdb"/>
<rect x="97" y="466.6" width="1" height="1.9" fill="#26a69a"/>
<rect x="100" y="466.9" width="1" height="1.6" fill="#b2dfdb"/>
<rect x="103" y="467.3" width="1" height="1.2" fill="#b2dfdb"/>
<rect x="106" y="467.4" width="1" height="1.1" fill="#b2dfdb"/>
<rect x="109" y="467.7" width="1" height="1.0" fill="#b2dfdb"/>
<rect x="112" y="467.8" width="1" height="1.0" fill="#b2dfdb"/>
<rect x="115" y="467.4" width="1" height="1.1" fill="#26a69a"/>
<rect x="117" y="467.3" width="1" height="1.2" fill="#26a69a"/>
<rect x="120" y="467.4" width="1" height="1.1" fill="#b2dfdb"/>
<rect x="123" y="468.3" width="1" height="1.0" fill="#b2dfdb"/>
<rect x="126" y="468.5" width="1" height="1.0" fill="#ef5350"/>
<rect x="129" y="467.4" width="1" height="1.1" fill="#26a69a"/>
<rect x="132" y="465.7" width="1" height="2.8" fill="#26a69a"/>
<rect x="135" y="464.3" width="1" height="4.2" fill="#26a69a"/>
<rect x="138" y="464.1" width="1" height="4.4" fill="#26a69a"/>
<rect x="141" y="463.8" width="1" height="4.7" fill="#26a69a"/>
<rect x="144" y="464.3" width="1" height="4.2" fill="#b2dfdb"/>
<rect x="147" y="464.8" width="1" height="3.7" fill="#b2dfdb"/>
<rect x="150" y="465.2" width="1" height="3.3" fill="#b2dfdb"/>
<rect x="153" y="465.5" width="1" height="3.0" fill="#b2dfdb"/>
<rect x="156" y="466.1" width="1" height="2.4" fill="#b2dfdb"/>
<rect x="159" y="466.2" width="1" height="2.3" fill="#b2dfdb"/>
<rect x="162" y="466.6" width="1" height="1.9" fill="#b2dfdb"/>
<rect x="165" y="467.0" width="1" height="1.5" fill="#b2dfdb"/>
<rect x="168" y="467.5" width="1" height="1.0" fill="#b2dfdb"/>
<rect x="170" y="468.5" width="1" height="1.0" fill="#ef5350"/>
<rect x="173" y="468.5" width="1" height="1.0" fill="#ef5350"/>
<rect x="176" y="468.5" width="1" height="1.0" fill="#ef5350"/>
<rect x="179" y="468.5" width="1" height="1.2" fill="#ef5350"/>
<rect x="182" y="468.5" width="1" height="1.3" fill="#ef5350"/>
<rect x="185" y="468.5" width="1" height="1.4" fill="#ef5350"/>
<rect x="188" y="468.5" width="1" height="1.6" fill="#ef5350"/>
<rect x="191" y="468.5" width="1" height="1.9" fill="#ef5350"/>
<rect x="194" y="468.5" width="1" height="2.0" fill="#ef5350"/>
<rect x="197" y="468.5" width="1" height="1.9" fill="#ffcdd2"/>
<rect x="200" y="468.5" width="1" height="2.2" fill="#ef5350"/>
<rect x="203" y="468.5" width="1" height="2.3" fill="#ef5350"/>
<rect x="206" y="468.5" width="1" height="2.4" fill="#ef5350"/>
<rect x="209" y="468.5" width="1" height="2.9" fill="#ef5350"/>
<rect x="212" y="468.5" width="1" height="3.5" fill="#ef5350"/>
<rect x="215" y="468.5" width="1" height="3.6" fill="#ef5350"/>
<rect x="218" y="468.5" width="1" height="4.1" fill="#ef5350"/>
<rect x="221" y="468.5" width="1" height="3.8" fill="#ffcdd2"/>
<rect x="223" y="468.5" width="1" height="3.3" fill="#ffcdd2"/>
<rect x="226" y="468.5" width="1" height="2.3" fill="#ffcdd2"/>
<rect x="229" y="468.5" width="1" height="1.6" fill="#ffcdd2"/>
<rect x="232" y="468.5" width="1" height="1.0" fill="#ffcdd2"/>
<rect x="235" y="468.5" width="1" height="1.0" fill="#ffcdd2"/>
<rect x="238" y="468.4" width="1" height="1.0" fill="#26a69a"/>
<rect x="241" y="468.4" width="1" height="1.0" fill="#26a69a"/>
<rect x="244" y="468.3" width="1" height="1.0" fill="#26a69a"/>
<rect x="247" y="468.3" width="1" height="1.0" fill="#b2dfdb"/>
<rect x="250" y="468.0" width="1" height="1.0" fill="#26a69a"/>
<rect x="253" y="467.6" width="1" height="1.0" fill="#26a69a"/>
<rect x="256" y="467.4" width="1" height="1.1" fill="#26a69a"/>
<rect x="259" y="467.2" width="1" height="1.3" fill="#26a69a"/>
<rect x="262" y="467.3" width="1" height="1.2" fill="#b2dfdb"/>
<rect x="265" y="467.5" width="1" height="1.0" fill="#b2dfdb"/>
<rect x="268" y="467.8" width="1" height="1.0" fill="#b2dfdb"/>
<rect x="271" y="467.9" width="1" height="1.0" fill="#b2dfdb"/>
<rect x="274" y="467.9" width="1" height="1.0" fill="#26a69a"/>
<rect x="276" y="468.1" width="1" height="1.0" fill="#b2dfdb"/>
<rect x="279" y="468.2" width="1" height="1.0" fill="#b2dfdb"/>
<rect x="282" y="468.5" width="1" height="1.0" fill="#b2dfdb"/>
<rect x="285" y="468.5" width="1" height="1.0" fill="#ef5350"/>
<rect x="288" y="468.3" width="1" height="1.0" fill="#26a69a"/>
<rect x="291" y="468.1" width="1" height="1.0" fill="#26a69a"/>
<rect x="294" y="467.8" width="1" height="1.0" fill="#26a69a"/>
<rect x="297" y="467.7" width="1" height="1.0" fill="#26a69a"/>
<rect x="300" y="467.1" width="1" height="1.4" fill="#26a69a"/>
<rect x="303" y="467.1" width="1" height="1.4" fill="#26a69a"/>
<rect x="306" y="467.2" width="1" height="1.3" fill="#b2dfdb"/>
<rect x="309" y="467.3" width="1" height="1.2" fill="#b2dfdb"/>
<rect x="312" y="467.4" width="1" height="1.1" fill="#b2dfdb"/>
<rect x="315" y="467.5" width="1" height="1.0" fill="#b2dfdb"/>
<rect x="318" y="467.5" width="1" height="1.0" fill="#26a69a"/>
<rect x="321" y="467.4" width="1" height="1.1" fill="#26a69a"/>
<rect x="324" y="467.6" width="1" height="1.0" fill="#b2dfdb"/>
<rect x="327" y="467.8" width="1" height="1.0" fill="#b2dfdb"/>
<rect x="330" y="468.0" width="1" height="1.0" fill="#b2dfdb"/>
<rect x="332" y="468.4" width="1" height="1.0" fill="#b2dfdb"/>
<rect x="335" y="468.1" width="1" height="1.0" fill="#26a69a"/>
<rect x="338" y="467.9" width="1" height="1.0" fill="#26a69a"/>
<rect x="341" y="467.8" width="1" height="1.0" fill="#26a69a"/>
<rect x="344" y="467.1" width="1" height="1.4" fill="#26a69a"/>
<rect x="347" y="466.3" width="1" height="2.2" fill="#26a69a"/>
<rect x="350" y="466.1" width="1" height="2.4" fill="#26a69a"/>
<rect x="353" y="466.4" width="1" height="2.1" fill="#b2dfdb"/>
<rect x="356" y="466.1" width="1" height="2.4" fill="#26a69a"/>
<rect x="359" y="466.4" width="1" height="2.1" fill="#b2dfdb"/>
<rect x="362" y="466.4" width="1" height="2.1" fill="#b2dfdb"/>
<rect x="365" y="466.7" width="1" height="1.8" fill="#b2dfdb"/>
<rect x="368" y="465.9" width="1" height="2.6" fill="#26a69a"/>
<rect x="371" y="465.7" width="1" height="2.8" fill="#26a69a"/>
<rect x="374" y="465.9" width="1" height="2.6" fill="#b2dfdb"/>
<rect x="377" y="465.9" width="1" height="2.6" fill="#b2dfdb"/>
<rect x="380" y="466.1" width="1" height="2.4" fill="#b2dfdb"/>
<rect x="383" y="466.7" width="1" height="1.8" fill="#b2dfdb"/>
<rect x="385" y="467.3" width="1" height="1.2" fill="#b2dfdb"/>
<rect x="388" y="467.7" width="1" height="1.0" fill="#b2dfdb"/>
<rect x="391" y="468.1" width="1" height="1.0" fill="#b2dfdb"/>
<rect x="394" y="468.5" width="1" height="1.0" fill="#ef5350"/>
<rect x="397" y="468.5" width="1" height="1.0" fill="#ef5350"/>
<rect x="400" y="468.5" width="1" height="1.2" fill="#ef5350"/>
<rect x="403" y="468.5" width="1" height="1.1" fill="#ffcdd2"/>
<rect x="406" y="468.5" width="1" height="1.0" fill="#ffcdd2"/>
<rect x="409" y="468.2" width="1" height="1.0" fill="#26a69a"/>
<rect x="412" y="467.8" width="1" height="1.0" fill="#26a69a"/>
<rect x="415" y="467.4" width="1" height="1.1" fill="#26a69a"/>
<rect x="418" y="467.4" width="1" height="1.1" fill="#b2dfdb"/>
<rect x="421" y="467.5" width="1" height="1.0" fill="#b2dfdb"/>
<rect x="424" y="467.8" width="1" height="1.0" fill="#b2dfdb"/>
<rect x="427" y="468.2" width="1" height="1.0" fill="#b2dfdb"/>
<rect x="430" y="468.5" width="1" height="1.0" fill="#ef5350"/>
<rect x="433" y="468.3" width="1" height="1.0" fill="#26a69a"/>
<rect x="436" y="468.0" width="1" height="1.0" fill="#26a69a"/>
<rect x="438" y="467.8" width="1" height="1.0" fill="#26a69a"/>
<rect x="441" y="467.7" width="1" height="1.0" fill="#26a69a"/>
<rect x="444" y="467.4" width="1" height="1.1" fill="#26a69a"/>
<rect x="447" y="467.8" width="1" height="1.0" fill="#b2dfdb"/>
<rect x="450" y="467.5" width="1" height="1.0" fill="#26a69a"/>
<rect x="453" y="467.4" width="1" height="1.1" fill="#26a69a"/>
<rect x="456" y="467.6" width="1" height="1.0" fill="#b2dfdb"/>
<rect x="459" y="467.7" width="1" height="1.0" fill="#b2dfdb"/>
<rect x="462" y="468.5" width="1" height="1.0" fill="#ef5350"/>
<rect x="465" y="468.5" width="1" height="1.0" fill="#ef5350"/>
<rect x="468" y="468.5" width="1" height="1.3" fill="#ef5350"/>
<rect x="471" y="468.5" width="1" height="1.1" fill="#ffcdd2"/>
<rect x="474" y="468.5" width="1" height="1.8" fill="#ef5350"/>
<rect x="477" y="468.5" width="1" height="2.2" fill="#ef5350"/>
<rect x="480" y="468.5" width="1" height="2.3" fill="#ef5350"/>
<rect x="483" y="468.5" width="1" height="2.3" fill="#ef5350"/>
<rect x="486" y="468.5" width="1" height="1.9" fill="#ffcdd2"/>
<rect x="489" y="468.5" width="1" height="2.0" fill="#ef5350"/>
<rect x="491" y="468.5" width="1" height="2.5" fill="#ef5350"/>
<rect x="494" y="468.5" width="1" height="3.4" fill="#ef5350"/>
<rect x="497" y="468.5" width="1" height="3.8" fill="#ef5350"/>
<rect x="500" y="468.5" width="1" height="4.0" fill="#ef5350"/>
<rect x="503" y="468.5" width="1" height="4.2" fill="#ef5350"/>
<rect x="506" y="468.5" width="1" height="4.2" fill="#ffcdd2"/>
<rect x="509" y="468.5" width="1" height="3.4" fill="#ffcdd2"/>
<rect x="512" y="468.5" width="1" height="2.9" fill="#ffcdd2"/>
<rect x="515" y="468.5" width="1" height="2.4" fill="#ffcdd2"/>
<rect x="518" y="468.5" width="1" height="1.5" fill="#ffcdd2"/>
<rect x="521" y="468.5" width="1" height="1.0" fill="#ffcdd2"/>
<rect x="524" y="468.5" width="1" height="1.0" fill="#ffcdd2"/>
<rect x="527" y="468.5" width="1" height="1.6" fill="#ef5350"/>
<rect x="530" y="468.5" width="1" height="2.3" fill="#ef5350"/>
<rect x="533" y="468.5" width="1" height="2.6" fill="#ef5350"/>
<rect x="536" y="468.5" width="1" height="2.5" fill="#ffcdd2"/>
<rect x="539" y="468.5" width="1" height="6.6" fill="#ef5350"/>
<rect x="542" y="468.5" width="1" height="7.6" fill="#ef5350"/>
<rect x="544" y="468.5" width="1" height="8.4" fill="#ef5350"/>
<rect x="547" y="468.5" width="1" height="8.1" fill="#ffcdd2"/>
<rect x="550" y="468.5" width="1" height="7.9" fill="#ffcdd2"/>
<rect x="553" y="468.5" width="1" height="6.7" fill="#ffcdd2"/>
<rect x="556" y="468.5" width="1" height="5.4" fill="#ffcdd2"/>
<rect x="559" y="468.5" width="1" height="3.0" fill="#ffcdd2"/>
<rect x="562" y="468.5" width="1" height="1.2" fill="#ffcdd2"/>
<rect x="565" y="468.4" width="1" height="1.0" fill="#26a69a"/>
<rect x="568" y="467.9" width="1" height="1.0" fill="#26a69a"/>
<rect x="571" y="466.5" width="1" height="2.0" fill="#26a69a"/>
<rect x="574" y="465.2" width="1" height="3.3" fill="#26a69a"/>
<rect x="577" y="464.5" width="1" height="4.0" fill="#26a69a"/>
<rect x="580" y="464.0" width="1" height="4.5" fill="#26a69a"/>
<rect x="583" y="464.3" width="1" height="4.2" fill="#b2dfdb"/>
<rect x="586" y="464.8" width="1" height="3.7" fill="#b2dfdb"/>
<rect x="589" y="465.7" width="1" height="2.8" fill="#b2dfdb"/>
<rect x="592" y="465.5" width="1" height="3.0" fill="#26a69a"/>
<rect x="595" y="465.4" width="1" height="3.1" fill="#26a69a"/>
<rect x="597" y="465.1" width="1" height="3.4" fill="#26a69a"/>
<rect x="600" y="464.9" width="1" height="3.6" fill="#26a69a"/>
<rect x="603" y="464.9" width="1" height="3.6" fill="#b2dfdb"/>
<rect x="606" y="464.8" width="1" height="3.7" fill="#26a69a"/>
<rect x="609" y="465.0" width="1" height="3.5" fill="#b2dfdb"/>
<rect x="612" y="464.4" width="1" height="4.1" fill="#26a69a"/>
<rect x="615" y="464.5" width="1" height="4.0" fill="#b2dfdb"/>
<rect x="618" y="464.4" width="1" height="4.1" fill="#26a69a"/>
<rect x="621" y="464.7" width="1" height="3.8" fill="#b2dfdb"/>
<rect x="624" y="465.6" width="1" height="2.9" fill="#b2dfdb"/>
<rect x="627" y="466.3" width="1" height="2.2" fill="#b2dfdb"/>
<rect x="630" y="466.8" width="1" height="1.7" fill="#b2dfdb"/>
<rect x="633" y="467.3" width="1" height="1.2" fill="#b2dfdb"/>
<rect x="636" y="467.6" width="1" height="1.0" fill="#b2dfdb"/>
<rect x="639" y="468.2" width="1" height="1.0" fill="#b2dfdb"/>
<rect x="642" y="467.9" width="1" height="1.0" fill="#26a69a"/>
<rect x="645" y="467.9" width="1" height="1.0" fill="#26a69a"/>
<rect x="648" y="467.5" width="1" height="1.0" fill="#26a69a"/>
<rect x="651" y="467.6" width="1" height="1.0" fill="#b2dfdb"/>
<rect x="653" y="468.1" width="1" height="1.0" fill="#b2dfdb"/>
<rect x="656" y="468.3" width="1" height="1.0" fill="#b2dfdb"/>
<rect x="659" y="468.1" width="1" height="1.0" fill="#26a69a"/>
<rect x="662" y="467.6" width="1" height="1.0" fill="#26a69a"/>
<rect x="665" y="467.2" width="1" height="1.3" fill="#26a69a"/>
<rect x="668" y="467.1" width="1" height="1.4" fill="#26a69a"/>
<rect x="671" y="466.8" width="1" height="1.7" fill="#26a69a"/>
<rect x="674" y="466.7" width="1" height="1.8" fill="#26a69a"/>
<rect x="677" y="466.8" width="1" height="1.7" fill="#b2dfdb"/>
<rect x="680" y="465.5" width="1" height="3.0" fill="#26a69a"/>
<rect x="683" y="465.1" width="1" height="3.4" fill="#26a69a"/>
<rect x="686" y="464.8" width="1" height="3.7" fill="#26a69a"/>
<rect x="689" y="464.6" width="1" height="3.9" fill="#26a69a"/>
<rect x="692" y="464.9" width="1" height="3.6" fill="#b2dfdb"/>
<rect x="695" y="465.4" width="1" height="3.1" fill="#b2dfdb"/>
<rect x="698" y="465.7" width="1" height="2.8" fill="#b2dfdb"/>
<rect x="701" y="465.9" width="1" height="2.6" fill="#b2dfdb"/>
<rect x="704" y="465.1" width="1" height="3.4" fill="#26a69a"/>
<rect x="706" y="465.2" width="1" height="3.3" fill="#b2dfdb"/>
<rect x="709" y="465.9" width="1" height="2.6" fill="#b2dfdb"/>
<rect x="712" y="467.7" width="1" height="1.0" fill="#b2dfdb"/>
<rect x="715" y="468.5" width="1" height="1.0" fill="#ef5350"/>
<rect x="718" y="468.5" width="1" height="1.3" fill="#ef5350"/>
<rect x="721" y="468.5" width="1" height="1.1" fill="#ffcdd2"/>
<rect x="724" y="468.5" width="1" height="1.0" fill="#ffcdd2"/>
<rect x="727" y="468.5" width="1" height="1.0" fill="#ef5350"/>
<rect x="730" y="468.5" width="1" height="1.0" fill="#ef5350"/>
<rect x="733" y="468.5" width="1" height="1.0" fill="#ffcdd2"/>
<rect x="736" y="468.5" width="1" height="1.0" fill="#ffcdd2"/>
<rect x="739" y="468.5" width="1" height="1.0" fill="#ffcdd2"/>
<rect x="742" y="468.5" width="1" height="1.0" fill="#ef5350"/>
<rect x="745" y="468.5" width="1" height="1.6" fill="#ef5350"/>
<rect x="748" y="468.5" width="1" height="2.0" fill="#ef5350"/>
<rect x="751" y="468.5" width="1" height="2.2" fill="#ef5350"/>
<rect x="754" y="468.5" width="1" height="3.0" fill="#ef5350"/>
<rect x="757" y="468.5" width="1" height="3.1" fill="#ef5350"/>
<rect x="759" y="468.5" width="1" height="3.2" fill="#ef5350"/>
<rect x="762" y="468.5" width="1" height="2.7" fill="#ffcdd2"/>
<rect x="765" y="468.5" width="1" height="1.7" fill="#ffcdd2"/>
<rect x="768" y="468.5" width="1" height="1.3" fill="#ffcdd2"/>
<rect x="771" y="468.5" width="1" height="1.0" fill="#ffcdd2"/>
<rect x="774" y="468.5" width="1" height="1.0" fill="#ffcdd2"/>
<rect x="777" y="468.0" width="1" height="1.0" fill="#26a69a"/>
<rect x="780" y="468.3" width="1" height="1.0" fill="#b2dfdb"/>
<rect x="783" y="468.4" width="1" height="1.0" fill="#b2dfdb"/>
<rect x="786" y="468.3" width="1" height="1.0" fill="#26a69a"/>
<rect x="789" y="468.5" width="1" height="1.0" fill="#ef5350"/>
<rect x="792" y="468.5" width="1" height="1.0" fill="#ef5350"/>
<rect x="795" y="468.5" width="1" height="1.0" fill="#ef5350"/>
<rect x="798" y="468.5" width="1" height="1.0" fill="#ffcdd2"/>
<rect x="801" y="468.5" width="1" height="1.0" fill="#ef5350"/>
<rect x="804" y="468.5" width="1" height="1.0" fill="#ffcdd2"/>
<rect x="807" y="468.5" width="1" height="1.0" fill="#ef5350"/>
<rect x="810" y="468.5" width="1" height="1.2" fill="#ef5350"/>
<rect x="812" y="468.5" width="1" height="1.3" fill="#ef5350"/>
<rect x="815" y="468.5" width="1" height="1.6" fill="#ef5350"/>
<rect x="818" y="468.5" width="1" height="1.5" fill="#ffcdd2"/>
<rect x="821" y="468.5" width="1" height="1.3" fill="#ffcdd2"/>
<rect x="824" y="468.5" width="1" height="1.2" fill="#ffcdd2"/>
<rect x="827" y="468.5" width="1" height="1.2" fill="#ef5350"/>
<rect x="830" y="468.5" width="1" height="1.3" fill="#ef5350"/>
<rect x="833" y="468.5" width="1" height="1.3" fill="#ffcdd2"/>
<rect x="836" y="468.5" width="1" height="1.3" fill="#ffcdd2"/>
<rect x="839" y="468.5" width="1" height="1.0" fill="#ffcdd2"/>
<rect x="842" y="468.5" width="1" height="1.0" fill="#ffcdd2"/>
<rect x="845" y="468.5" width="1" height="1.0" fill="#ef5350"/>
<rect x="848" y="468.5" width="1" height="1.0" fill="#ef5350"/>
<rect x="851" y="468.5" width="1" height="1.0" fill="#ef5350"/>
<rect x="854" y="468.5" width="1" height="1.3" fill="#ef5350"/>
<rect x="857" y="468.5" width="1" height="1.3" fill="#ffcdd2"/>
<rect x="860" y="468.5" width="1" height="1.0" fill="#ffcdd2"/>
<rect x="863" y="468.5" width="1" height="1.0" fill="#ffcdd2"/>
<rect x="865" y="468.5" width="1" height="1.0" fill="#ffcdd2"/>
<rect x="868" y="468.5" width="1" height="1.0" fill="#ffcdd2"/>
<rect x="871" y="468.5" width="1" height="1.0" fill="#ef5350"/>
<rect x="874" y="468.5" width="1" height="1.0" fill="#ffcdd2"/>
<rect x="877" y="468.5" width="1" height="1.0" fill="#ffcdd2"/>
<rect x="880" y="468.5" width="1" height="1.0" fill="#26a69a"/>
<rect x="883" y="468.3" width="1" height="1.0" fill="#26a69a"/>
<rect x="886" y="468.0" width="1" height="1.0" fill="#26a69a"/>
<rect x="889" y="468.1" width="1" height="1.0" fill="#b2dfdb"/>
<rect x="892" y="468.0" width="1" height="1.0" fill="#26a69a"/>
<rect x="895" y="468.1" width="1" height="1.0" fill="#b2dfdb"/>
<rect x="898" y="468.1" width="1" height="1.0" fill="#26a69a"/>
<rect x="901" y="468.2" width="1" height="1.0" fill="#b2dfdb"/>
<rect x="904" y="468.2" width="1" height="1.0" fill="#b2dfdb"/>
<rect x="907" y="468.3" width="1" height="1.0" fill="#b2dfdb"/>
<rect x="910" y="468.5" width="1" height="1.0" fill="#b2dfdb"/>
<rect x="913" y="468.5" width="1" height="1.0" fill="#ef5350"/>
<rect x="916" y="468.5" width="1" height="1.0" fill="#ffcdd2"/>
<rect x="919" y="468.5" width="1" height="1.0" fill="#26a69a"/>
<rect x="921" y="468.5" width="1" height="1.0" fill="#ef5350"/>
<rect x="924" y="468.2" width="1" height="1.0" fill="#26a69a"/>
<rect x="927" y="467.8" width="1" height="1.0" fill="#26a69a"/>
<rect x="930" y="467.6" width="1" height="1.0" fill="#26a69a"/>
</g>
<polyline points="9.0,470.0 11.9,469.8 14.9,469.7 17.8,469.7 20.8,469.6 23.7,469.6 26.7,469.6 29.6,469.6 32.6,469.7 35.5,469.9 38.4,470.4 41.4,471.1 44.3,472.1 47.3,473.1 50.2,474.0 53.2,474.9 56.1,475.6 59.1,476.2 62.0,476.6 65.0,476.9 67.9,477.1 70.8,477.3 73.8,477.4 76.7,477.5 79.7,477.4 82.6,477.1 85.6,476.8 88.5,476.4 91.5,476.0 94.4,475.7 97.3,475.3 100.3,475.0 103.2,474.7 106.2,474.5 109.1,474.4 112.1,474.2 115.0,474.0 118.0,473.7 120.9,473.5 123.8,473.5 126.8,473.5 129.7,473.3 132.7,472.8 135.6,471.9 138.6,471.0 141.5,470.1 144.5,469.3 147.4,468.5 150.4,467.9 153.3,467.3 156.2,466.8 159.2,466.3 162.1,466.0 165.1,465.7 168.0,465.5 171.0,465.5 173.9,465.6 176.9,465.7 179.8,465.9 182.8,466.2 185.7,466.5 188.6,466.8 191.6,467.2 194.5,467.6 197.5,468.0 200.4,468.4 203.4,468.9 206.3,469.3 209.3,469.9 212.2,470.6 215.1,471.4 218.1,472.2 221.0,472.9 224.0,473.6 226.9,474.0 229.9,474.4 232.8,474.5 235.8,474.5 238.7,474.5 241.7,474.4 244.6,474.4 247.5,474.4 250.5,474.3 253.4,474.1 256.4,473.9 259.3,473.6 262.3,473.3 265.2,473.2 268.2,473.0 271.1,472.9 274.0,472.8 277.0,472.7 279.9,472.6 282.9,472.6 285.8,472.7 288.8,472.7 291.7,472.6 294.7,472.5 297.6,472.3 300.5,472.0 303.5,471.7 306.4,471.5 309.4,471.2 312.3,471.0 315.3,470.8 318.2,470.6 321.2,470.4 324.1,470.2 327.1,470.1 330.0,470.0 332.9,470.0 335.9,469.9 338.8,469.8 341.8,469.6 344.7,469.3 347.7,468.9 350.6,468.4 353.6,468.0 356.5,467.5 359.4,467.1 362.4,466.7 365.3,466.3 368.3,465.8 371.2,465.2 374.2,464.7 377.1,464.2 380.1,463.7 383.0,463.3 386.0,463.1 388.9,462.9 391.8,462.8 394.8,462.9 397.7,463.1 400.7,463.3 403.6,463.5 406.6,463.7 409.5,463.6 412.5,463.5 415.4,463.2 418.3,463.0 421.3,462.8 424.2,462.7 427.2,462.6 430.1,462.6 433.1,462.6 436.0,462.5 439.0,462.4 441.9,462.2 444.9,462.0 447.8,461.8 450.7,461.6 453.7,461.4 456.6,461.2 459.6,461.1 462.5,461.1 465.5,461.2 468.4,461.4 471.4,461.7 474.3,462.0 477.2,462.5 480.2,462.9 483.1,463.4 486.1,463.7 489.0,464.1 492.0,464.6 494.9,465.3 497.9,466.1 500.8,466.9 503.8,467.7 506.7,468.6 509.6,469.2 512.6,469.8 515.5,470.3 518.5,470.6 521.4,470.7 524.4,470.9 527.3,471.2 530.3,471.6 533.2,472.2 536.1,472.7 539.1,474.0 542.0,475.5 545.0,477.2 547.9,478.8 550.9,480.4 553.8,481.7 556.8,482.8 559.7,483.4 562.7,483.7 565.6,483.6 568.5,483.5 571.5,483.1 574.4,482.5 577.4,481.7 580.3,480.8 583.3,479.9 586.2,479.2 589.2,478.6 592.1,478.0 595.0,477.4 598.0,476.7 600.9,476.0 603.9,475.3 606.8,474.5 609.8,473.8 612.7,473.0 615.7,472.2 618.6,471.4 621.6,470.7 624.5,470.1 627.4,469.6 630.4,469.3 633.3,469.1 636.3,468.9 639.2,468.8 642.2,468.7 645.1,468.6 648.1,468.4 651.0,468.2 654.0,468.1 656.9,468.1 659.8,468.0 662.8,467.8 665.7,467.6 668.7,467.3 671.6,466.9 674.6,466.6 677.5,466.2 680.5,465.6 683.4,465.0 686.3,464.2 689.3,463.4 692.2,462.7 695.2,462.1 698.1,461.5 701.1,461.0 704.0,460.4 707.0,459.7 709.9,459.2 712.8,459.0 715.8,459.1 718.7,459.4 721.7,459.6 724.6,459.7 727.6,459.8 730.5,459.9 733.5,460.0 736.4,460.1 739.4,460.1 742.3,460.2 745.2,460.6 748.2,460.9 751.1,461.4 754.1,462.0 757.0,462.6 760.0,463.3 762.9,463.8 765.9,464.1 768.8,464.4 771.8,464.5 774.7,464.6 777.6,464.5 780.6,464.5 783.5,464.5 786.5,464.4 789.4,464.4 792.4,464.5 795.3,464.5 798.3,464.6 801.2,464.6 804.1,464.6 807.1,464.8 810.0,465.1 813.0,465.3 815.9,465.6 818.9,466.0 821.8,466.2 824.8,466.4 827.7,466.7 830.6,467.0 833.6,467.2 836.5,467.5 839.5,467.6 842.4,467.7 845.4,467.8 848.3,467.9 851.3,468.1 854.2,468.4 857.2,468.6 860.1,468.9 863.0,469.0 866.0,469.2 868.9,469.3 871.9,469.4 874.8,469.6 877.8,469.6 880.7,469.6 883.7,469.6 886.6,469.5 889.5,469.4 892.5,469.3 895.4,469.2 898.4,469.2 901.3,469.1 904.3,469.0 907.2,469.0 910.2,469.0 913.1,469.0 916.1,469.0 919.0,469.0 921.9,469.0 924.9,469.0 927.8,468.8 930.8,468.6" fill="none" stroke="#ff6d00" stroke-width="1.25" stroke-linejoin="round" stroke-linecap="round"/>
<polyline points="9.0,469.4 11.9,469.4 14.9,469.3 17.8,469.4 20.8,469.5 23.7,469.4 26.7,469.5 29.6,469.8 32.6,469.9 35.5,470.5 38.4,472.5 41.4,474.2 44.3,475.9 47.3,477.0 50.2,477.8 53.2,478.5 56.1,478.5 59.1,478.5 62.0,478.2 65.0,478.1 67.9,478.0 70.8,477.9 73.8,478.0 76.7,477.6 79.7,477.1 82.6,476.1 85.6,475.3 88.5,475.0 91.5,474.6 94.4,474.2 97.3,473.8 100.3,473.7 103.2,473.8 106.2,473.7 109.1,473.7 112.1,473.6 115.0,473.1 118.0,472.8 120.9,472.7 123.8,473.3 126.8,473.8 129.7,472.4 132.7,470.5 135.6,468.6 138.6,467.5 141.5,466.4 144.5,465.9 147.4,465.6 150.4,465.2 153.3,464.9 156.2,464.8 159.2,464.5 162.1,464.5 165.1,464.4 168.0,464.7 171.0,465.5 173.9,466.1 176.9,466.2 179.8,466.9 182.8,467.2 185.7,467.6 188.6,468.1 191.6,468.7 194.5,469.2 197.5,469.5 200.4,470.2 203.4,470.7 206.3,471.2 209.3,472.2 212.2,473.5 215.1,474.3 218.1,475.5 221.0,476.0 224.0,476.2 226.9,475.9 229.9,475.6 232.8,474.9 235.8,474.5 238.7,474.4 241.7,474.3 244.6,474.3 247.5,474.2 250.5,473.9 253.4,473.4 256.4,473.0 259.3,472.5 262.3,472.4 265.2,472.4 268.2,472.4 271.1,472.4 274.0,472.3 277.0,472.4 279.9,472.4 282.9,472.6 285.8,473.1 288.8,472.6 291.7,472.3 294.7,471.9 297.6,471.6 300.5,470.9 303.5,470.6 306.4,470.4 309.4,470.3 312.3,470.2 315.3,470.0 318.2,469.8 321.2,469.5 324.1,469.5 327.1,469.5 330.0,469.6 332.9,469.9 335.9,469.6 338.8,469.3 341.8,469.0 344.7,468.3 347.7,467.1 350.6,466.5 353.6,466.3 356.5,465.6 359.4,465.4 362.4,465.0 365.3,464.8 368.3,463.7 371.2,463.0 374.2,462.6 377.1,462.1 380.1,461.7 383.0,461.9 386.0,462.1 388.9,462.3 391.8,462.5 394.8,463.2 397.7,463.7 400.7,464.3 403.6,464.4 406.6,464.2 409.5,463.3 412.5,462.9 415.4,462.3 418.3,462.2 421.3,462.1 424.2,462.1 427.2,462.3 430.1,462.7 433.1,462.5 436.0,462.1 439.0,461.8 441.9,461.6 444.9,461.1 447.8,461.2 450.7,460.9 453.7,460.5 456.6,460.5 459.6,460.4 462.5,461.1 465.5,461.6 468.4,462.5 471.4,462.5 474.3,463.4 477.2,464.2 480.2,464.7 483.1,465.2 486.1,465.2 489.0,465.7 492.0,466.6 494.9,468.0 497.9,469.1 500.8,470.1 503.8,471.1 506.7,471.9 509.6,471.9 512.6,472.1 515.5,472.2 518.5,471.8 521.4,471.3 524.4,471.3 527.3,472.5 530.3,473.5 533.2,474.2 536.1,474.7 539.1,479.3 542.0,481.6 545.0,483.9 547.9,485.3 550.9,486.7 553.8,487.1 556.8,487.1 559.7,485.8 562.7,484.6 565.6,483.6 568.5,483.0 571.5,481.5 574.4,479.8 577.4,478.4 580.3,477.2 583.3,476.6 586.2,476.2 589.2,476.4 592.1,475.7 595.0,475.0 598.0,474.1 600.9,473.1 603.9,472.4 606.8,471.6 609.8,471.0 612.7,469.8 615.7,469.0 618.6,468.2 621.6,467.6 624.5,467.8 627.4,467.9 630.4,467.9 633.3,468.1 636.3,468.1 639.2,468.6 642.2,468.2 645.1,468.1 648.1,467.6 651.0,467.5 654.0,467.8 656.9,467.9 659.8,467.7 662.8,467.1 665.7,466.6 668.7,466.1 671.6,465.6 674.6,465.1 677.5,464.8 680.5,463.2 683.4,462.3 686.3,461.3 689.3,460.4 692.2,459.9 695.2,459.6 698.1,459.3 701.1,459.0 704.0,457.7 707.0,457.1 709.9,457.1 712.8,458.3 715.8,459.7 718.7,460.5 721.7,460.5 724.6,459.9 727.6,460.2 730.5,460.5 733.5,460.4 736.4,460.3 739.4,460.3 742.3,460.7 745.2,461.8 748.2,462.5 751.1,463.2 754.1,464.4 757.0,465.1 760.0,465.9 762.9,465.9 765.9,465.5 768.8,465.4 771.8,465.0 774.7,465.1 777.6,464.1 780.6,464.3 783.5,464.4 786.5,464.3 789.4,464.5 792.4,464.7 795.3,464.7 798.3,464.7 801.2,464.8 804.1,464.7 807.1,465.6 810.0,466.0 813.0,466.4 815.9,466.9 818.9,467.2 821.8,467.2 824.8,467.4 827.7,467.7 830.6,468.0 833.6,468.2 836.5,468.5 839.5,468.1 842.4,467.9 845.4,468.3 848.3,468.6 851.3,468.9 854.2,469.4 857.2,469.7 860.1,469.7 863.0,469.8 866.0,469.7 868.9,469.8 871.9,470.0 874.8,470.0 877.8,470.0 880.7,469.6 883.7,469.5 886.6,469.1 889.5,469.1 892.5,468.9 895.4,469.0 898.4,468.8 901.3,468.9 904.3,468.8 907.2,468.9 910.2,469.0 913.1,469.0 916.1,469.0 919.0,469.0 921.9,469.0 924.9,468.7 927.8,468.3 930.8,467.9" fill="none" stroke="#2196f3" stroke-width="1.25" stroke-linejoin="round" stroke-linecap="round"/>
<line x1="7" y1="140.5" x2="1000" y2="140.5" stroke="#26a69a" stroke-width="1" stroke-dasharray="2,1" shape-rendering="crispEdges"/>
<text x="15.2" y="64.5" font-size="12" font-weight="bold" fill="#50535e" text-anchor="start" textLength="203" lengthAdjust="spacingAndGlyphs">Bitcoin / U.S. Dollar, 1D, COINBASE</text>
<text x="15.2" y="81.2" font-size="12" font-weight="normal" fill="#555555" text-anchor="start" textLength="17.6" lengthAdjust="spacingAndGlyphs">Vol</text>
<text x="15.2" y="99" font-size="12" font-weight="normal" fill="#555555" text-anchor="start" textLength="94" lengthAdjust="spacingAndGlyphs">MA (50, close, 0)</text>
<text x="15.2" y="115.8" font-size="12" font-weight="normal" fill="#555555" text-anchor="start" textLength="100.5" lengthAdjust="spacingAndGlyphs">MA (100, close, 0)</text>
<text x="15.4" y="431" font-size="12" font-weight="normal" fill="#555555" text-anchor="start" textLength="77.2" lengthAdjust="spacingAndGlyphs">RSI (14, close)</text>
<text x="15.4" y="474.5" font-size="12" font-weight="normal" fill="#555555" text-anchor="start" textLength="129.6" lengthAdjust="spacingAndGlyphs">MACD (12, 26, close, 9)</text>
<g stroke="#4f525e" stroke-width="1" fill="none" shape-rendering="crispEdges">
<rect x="6.5" y="43.5" width="1060" height="476"/>
<line x1="1000.5" y1="43.5" x2="1000.5" y2="519.5"/>
<line x1="6.5" y1="409.5" x2="1066.5" y2="409.5"/>
<line x1="6.5" y1="453.5" x2="1066.5" y2="453.5"/>
<line x1="6.5" y1="490.5" x2="1066.5" y2="490.5"/>
<line x1="1000.5" y1="68.5" x2="1005" y2="68.5"/>
<line x1="1000.5" y1="117.5" x2="1005" y2="117.5"/>
<line x1="1000.5" y1="167.5" x2="1005" y2="167.5"/>
<line x1="1000.5" y1="216.5" x2="1005" y2="216.5"/>
<line x1="1000.5" y1="266.5" x2="1005" y2="266.5"/>
<line x1="1000.5" y1="316.5" x2="1005" y2="316.5"/>
<line x1="1000.5" y1="365.5" x2="1005" y2="365.5"/>
<line x1="1000.5" y1="468.5" x2="1005" y2="468.5"/>
<line x1="59.5" y1="490.5" x2="59.5" y2="495"/>
<line x1="150.5" y1="490.5" x2="150.5" y2="495"/>
<line x1="238.5" y1="490.5" x2="238.5" y2="495"/>
<line x1="330.5" y1="490.5" x2="330.5" y2="495"/>
<line x1="421.5" y1="490.5" x2="421.5" y2="495"/>
<line x1="506.5" y1="490.5" x2="506.5" y2="495"/>
<line x1="598.5" y1="490.5" x2="598.5" y2="495"/>
<line x1="686.5" y1="490.5" x2="686.5" y2="495"/>
<line x1="777.5" y1="490.5" x2="777.5" y2="495"/>
<line x1="866.5" y1="490.5" x2="866.5" y2="495"/>
<line x1="957.5" y1="490.5" x2="957.5" y2="495"/>
</g>
<text x="1009.2" y="72.7" font-size="12" font-weight="normal" fill="#50535e" text-anchor="start" textLength="47.4" lengthAdjust="spacingAndGlyphs">11000.00</text>
<text x="1009.2" y="121.7" font-size="12" font-weight="normal" fill="#50535e" text-anchor="start" textLength="47.4" lengthAdjust="spacingAndGlyphs">10000.00</text>
<text x="1009.2" y="171.7" font-size="12" font-weight="normal" fill="#50535e" text-anchor="start" textLength="42.2" lengthAdjust="spacingAndGlyphs">9000.00</text>
<text x="1009.2" y="220.7" font-size="12" font-weight="normal" fill="#50535e" text-anchor="start" textLength="42.2" lengthAdjust="spacingAndGlyphs">8000.00</text>
<text x="1009.2" y="270.7" font-size="12" font-weight="normal" fill="#50535e" text-anchor="start" textLength="42.2" lengthAdjust="spacingAndGlyphs">7000.00</text>
<text x="1009.2" y="320.7" font-size="12" font-weight="normal" fill="#50535e" text-anchor="start" textLength="42.2" lengthAdjust="spacingAndGlyphs">6000.00</text>
<text x="1009.2" y="369.7" font-size="12" font-weight="normal" fill="#50535e" text-anchor="start" textLength="42.2" lengthAdjust="spacingAndGlyphs">5000.00</text>
<text x="1009.2" y="472.7" font-size="12" font-weight="normal" fill="#50535e" text-anchor="start" textLength="23.1" lengthAdjust="spacingAndGlyphs">0.00</text>
<text x="58.8" y="509.5" font-size="12" font-weight="normal" fill="#50535e" text-anchor="middle">Oct</text>
<text x="149.8" y="509.5" font-size="12" font-weight="normal" fill="#50535e" text-anchor="middle">Nov</text>
<text x="237.8" y="509.5" font-size="12" font-weight="normal" fill="#50535e" text-anchor="middle">Dec</text>
<text x="329.5" y="509.5" font-size="12" font-weight="bold" fill="#50535e" text-anchor="middle">2020</text>
<text x="420.8" y="509.5" font-size="12" font-weight="normal" fill="#50535e" text-anchor="middle">Feb</text>
<text x="505.8" y="509.5" font-size="12" font-weight="normal" fill="#50535e" text-anchor="middle">Mar</text>
<text x="597.8" y="509.5" font-size="12" font-weight="normal" fill="#50535e" text-anchor="middle">Apr</text>
<text x="685.8" y="509.5" font-size="12" font-weight="normal" fill="#50535e" text-anchor="middle">May</text>
<text x="776.8" y="509.5" font-size="12" font-weight="normal" fill="#50535e" text-anchor="middle">Jun</text>
<text x="865.8" y="509.5" font-size="12" font-weight="normal" fill="#50535e" text-anchor="middle">Jul</text>
<text x="956.8" y="509.5" font-size="12" font-weight="normal" fill="#50535e" text-anchor="middle">Aug</text>
<rect x="1000" y="131" width="60" height="18.8" fill="#26a69a"/>
<rect x="1001" y="151.3" width="59" height="18.4" fill="#26a69a"/>
<rect x="1000" y="140" width="4" height="1" fill="#fff"/>
<text x="1009" y="144.6" font-size="12" font-weight="bold" fill="#fff" text-anchor="start" textLength="42" lengthAdjust="spacingAndGlyphs">9539.99</text>
<text x="1005.1" y="164.6" font-size="12" font-weight="bold" fill="#fff" text-anchor="start" textLength="46.5" lengthAdjust="spacingAndGlyphs">22:19:18</text>
<text x="6.3" y="17" font-size="12" font-weight="bold" fill="#131722" text-anchor="start" textLength="56" lengthAdjust="spacingAndGlyphs">CoinGape</text>
<text x="66.4" y="17" font-size="12" font-weight="normal" fill="#131722" text-anchor="start" textLength="329.6" lengthAdjust="spacingAndGlyphs">published on TradingView.com, July 23, 2020 01:40:45 UTC</text>
<text x="6.6" y="34.3" font-size="12" font-weight="bold" fill="#131722" text-anchor="start" textLength="131.3" lengthAdjust="spacingAndGlyphs">COINBASE:BTCUSD, 1D</text>
<text x="144.5" y="34.3" font-size="12" font-weight="normal" fill="#131722" text-anchor="start" textLength="44.4" lengthAdjust="spacingAndGlyphs">9539.99</text>
<path d="M192.9,33.7 L203.3,33.7 L198.1,24.2 Z" fill="#26a69a"/>
<text x="207.6" y="34.3" font-size="12" font-weight="normal" fill="#131722" text-anchor="start" textLength="83.4" lengthAdjust="spacingAndGlyphs">+3.81 (+0.04%)</text>
<text x="296.2" y="34.3" font-size="12" font-weight="bold" fill="#131722" text-anchor="start" textLength="13" lengthAdjust="spacingAndGlyphs">O:</text>
<text x="310.5" y="34.3" font-size="12" font-weight="normal" fill="#26a69a" text-anchor="start" textLength="45.5" lengthAdjust="spacingAndGlyphs">9536.20</text>
<text x="360.5" y="34.3" font-size="12" font-weight="bold" fill="#131722" text-anchor="start" textLength="12" lengthAdjust="spacingAndGlyphs">H:</text>
<text x="374.9" y="34.3" font-size="12" font-weight="normal" fill="#26a69a" text-anchor="start" textLength="44.3" lengthAdjust="spacingAndGlyphs">9549.94</text>
<text x="424.6" y="34.3" font-size="12" font-weight="bold" fill="#131722" text-anchor="start" textLength="9.5" lengthAdjust="spacingAndGlyphs">L:</text>
<text x="435.4" y="34.3" font-size="12" font-weight="normal" fill="#26a69a" text-anchor="start" textLength="44.9" lengthAdjust="spacingAndGlyphs">9517.15</text>
<text x="485.4" y="34.3" font-size="12" font-weight="bold" fill="#131722" text-anchor="start" textLength="11.5" lengthAdjust="spacingAndGlyphs">C:</text>
<text x="497.8" y="34.3" font-size="12" font-weight="normal" fill="#26a69a" text-anchor="start" textLength="44.6" lengthAdjust="spacingAndGlyphs">9539.99</text>
<g fill="#2196f3"><circle cx="10.2" cy="540.6" r="4.3"/><circle cx="17.1" cy="535.3" r="5.6"/><circle cx="26.6" cy="539.5" r="5.4"/><rect x="10.2" y="538.5" width="16.4" height="6.4"/><rect x="11.5" y="535.3" width="11.2" height="9.6"/></g>
<polyline points="6.3,542.9 15.9,535.8 22,541.4 29.2,533.8" fill="none" stroke="#fff" stroke-width="1.1"/><circle cx="15.9" cy="535.8" r="1.7" fill="#fff"/><circle cx="22" cy="541.4" r="1.9" fill="#fff"/>
<text x="33.9" y="542.2" font-size="13" font-weight="normal" fill="#131722" text-anchor="start" textLength="70.6" lengthAdjust="spacingAndGlyphs">TradingView</text>
</svg>
</body></html>
